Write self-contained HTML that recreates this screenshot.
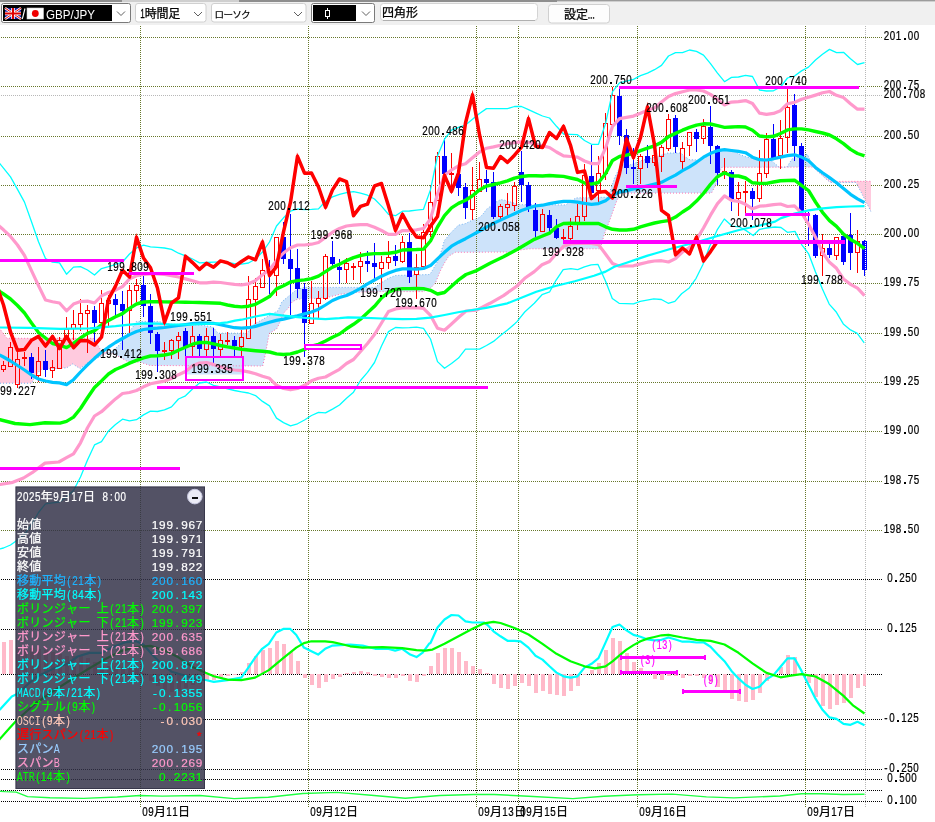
<!DOCTYPE html>
<html><head><meta charset="utf-8"><title>GBP/JPY</title>
<style>html,body{margin:0;padding:0;background:#fff;}body{width:935px;height:822px;overflow:hidden;font-family:"Liberation Sans",sans-serif;}svg{display:block;will-change:transform;}.cj{font-family:"Liberation Sans","Noto Sans CJK JP",sans-serif;font-size:12px;stroke-width:0.25px;}</style>
</head><body>
<svg width="935" height="822" viewBox="0 0 935 822">
<defs>
<clipPath id="plotclip"><rect x="0" y="25" width="871.5" height="535"/></clipPath>
<clipPath id="plotclip2"><rect x="0" y="25" width="866" height="782"/></clipPath>
</defs>
<rect x="0" y="0" width="935" height="822" fill="#fff"/>
<line x1="1" y1="37.5" x2="882" y2="37.5" stroke="#66772b" stroke-width="1" stroke-dasharray="1 1" shape-rendering="crispEdges"/>
<line x1="1" y1="86.5" x2="882" y2="86.5" stroke="#66772b" stroke-width="1" stroke-dasharray="1 1" shape-rendering="crispEdges"/>
<line x1="1" y1="136.5" x2="882" y2="136.5" stroke="#66772b" stroke-width="1" stroke-dasharray="1 1" shape-rendering="crispEdges"/>
<line x1="1" y1="185.5" x2="882" y2="185.5" stroke="#66772b" stroke-width="1" stroke-dasharray="1 1" shape-rendering="crispEdges"/>
<line x1="1" y1="234.5" x2="882" y2="234.5" stroke="#66772b" stroke-width="1" stroke-dasharray="1 1" shape-rendering="crispEdges"/>
<line x1="1" y1="283.5" x2="882" y2="283.5" stroke="#66772b" stroke-width="1" stroke-dasharray="1 1" shape-rendering="crispEdges"/>
<line x1="1" y1="333.5" x2="882" y2="333.5" stroke="#66772b" stroke-width="1" stroke-dasharray="1 1" shape-rendering="crispEdges"/>
<line x1="1" y1="382.5" x2="882" y2="382.5" stroke="#66772b" stroke-width="1" stroke-dasharray="1 1" shape-rendering="crispEdges"/>
<line x1="1" y1="431.5" x2="882" y2="431.5" stroke="#66772b" stroke-width="1" stroke-dasharray="1 1" shape-rendering="crispEdges"/>
<line x1="1" y1="481.5" x2="882" y2="481.5" stroke="#66772b" stroke-width="1" stroke-dasharray="1 1" shape-rendering="crispEdges"/>
<line x1="1" y1="530.5" x2="882" y2="530.5" stroke="#66772b" stroke-width="1" stroke-dasharray="1 1" shape-rendering="crispEdges"/>
<line x1="1" y1="95.5" x2="882" y2="95.5" stroke="#b8b8b8" stroke-width="1" stroke-dasharray="1 1" shape-rendering="crispEdges"/>
<line x1="1" y1="579.5" x2="882" y2="579.5" stroke="#000" stroke-width="1" stroke-dasharray="1 1" shape-rendering="crispEdges"/>
<line x1="1" y1="629.5" x2="882" y2="629.5" stroke="#000" stroke-width="1" stroke-dasharray="1 1" shape-rendering="crispEdges"/>
<line x1="1" y1="674.5" x2="882" y2="674.5" stroke="#000" stroke-width="1" stroke-dasharray="1 1" shape-rendering="crispEdges"/>
<line x1="1" y1="719.5" x2="882" y2="719.5" stroke="#000" stroke-width="1" stroke-dasharray="1 1" shape-rendering="crispEdges"/>
<line x1="1" y1="769.5" x2="882" y2="769.5" stroke="#000" stroke-width="1" stroke-dasharray="1 1" shape-rendering="crispEdges"/>
<line x1="1" y1="779.5" x2="882" y2="779.5" stroke="#000" stroke-width="1" stroke-dasharray="1 1" shape-rendering="crispEdges"/>
<line x1="1" y1="790.5" x2="882" y2="790.5" stroke="#000" stroke-width="1" stroke-dasharray="1 1" shape-rendering="crispEdges"/>
<line x1="1" y1="801.5" x2="882" y2="801.5" stroke="#000" stroke-width="1" stroke-dasharray="1 1" shape-rendering="crispEdges"/>
<g clip-path="url(#plotclip)">
<path d="M-3.0 383.2 L0.0 383.2 L1.0 383.2 L2.0 383.2 L3.0 383.2 L4.0 383.2 L5.0 383.2 L6.0 383.2 L7.0 383.2 L8.0 383.2 L9.0 383.2 L10.0 383.2 L11.0 383.2 L12.0 383.2 L13.0 383.2 L14.0 383.2 L15.0 383.2 L16.0 383.2 L17.0 383.2 L18.0 383.2 L19.0 383.2 L20.0 383.2 L21.0 383.2 L22.0 383.2 L23.0 383.2 L24.0 383.2 L25.0 383.2 L26.0 383.2 L27.0 383.2 L28.0 383.2 L29.0 383.2 L30.0 383.2 L31.0 383.2 L32.0 383.2 L33.0 380.8 L34.0 378.5 L34.2 378.0 L35.0 376.8 L36.0 375.3 L37.0 373.8 L37.6 372.9 L38.0 372.5 L39.0 371.5 L40.0 370.5 L41.0 369.5 L42.0 369.4 L43.0 369.4 L44.0 369.3 L45.0 369.2 L46.0 369.2 L47.0 369.1 L48.0 369.0 L49.0 369.0 L50.0 368.9 L51.0 368.8 L52.0 368.8 L53.0 368.7 L54.0 368.6 L55.0 368.6 L56.0 368.5 L57.0 368.4 L58.0 368.4 L59.0 368.3 L60.0 368.2 L61.0 368.2 L62.0 368.1 L63.0 368.0 L64.0 368.0 L65.0 367.9 L66.0 367.8 L66.7 367.8 L67.0 367.6 L68.0 367.0 L69.0 366.3 L70.0 365.7 L71.0 365.0 L72.0 364.4 L72.7 363.9 L73.0 364.1 L74.0 364.7 L75.0 365.4 L76.0 366.0 L77.0 366.7 L78.0 367.3 L79.0 368.0 L80.0 368.6 L81.0 367.8 L82.0 367.1 L83.0 366.3 L84.0 365.5 L85.0 364.8 L86.0 364.0 L87.0 363.2 L87.3 363.0 L88.0 362.7 L89.0 362.2 L90.0 361.7 L91.0 361.2 L92.0 360.7 L93.0 360.2 L93.6 359.9 L94.0 359.7 L95.0 359.2 L96.0 358.7 L97.0 358.2 L98.0 357.7 L99.0 357.2 L100.0 356.7 L101.0 356.2 L101.3 356.0 L102.0 355.7 L103.0 355.2 L104.0 354.7 L105.0 354.2 L106.0 353.7 L106.4 353.5 L107.0 353.3 L108.0 352.9 L108.0 352.6 L107.0 352.5 L106.4 352.4 L106.0 352.3 L105.0 352.0 L104.0 351.7 L103.0 351.5 L102.0 351.2 L101.3 351.0 L101.0 350.5 L100.0 348.9 L99.0 347.2 L98.0 345.6 L97.0 343.9 L96.0 342.3 L95.0 340.6 L94.0 339.0 L93.6 338.3 L93.0 338.3 L92.0 338.3 L91.0 338.3 L90.0 338.3 L89.0 338.3 L88.0 338.3 L87.3 338.3 L87.0 338.3 L86.0 338.3 L85.0 338.3 L84.0 338.3 L83.0 338.3 L82.0 338.3 L81.0 338.3 L80.0 338.3 L79.0 338.3 L78.0 338.3 L77.0 338.3 L76.0 338.3 L75.0 338.3 L74.0 338.3 L73.0 338.3 L72.7 338.3 L72.0 338.3 L71.0 338.3 L70.0 338.3 L69.0 338.3 L68.0 338.3 L67.0 338.3 L66.7 338.3 L66.0 338.3 L65.0 338.3 L64.0 338.3 L63.0 338.3 L62.0 338.3 L61.0 338.3 L60.0 338.3 L59.0 338.3 L58.0 338.3 L57.0 338.3 L56.0 338.3 L55.0 338.3 L54.0 338.3 L53.0 338.3 L52.0 338.3 L51.0 338.3 L50.0 338.3 L49.0 338.3 L48.0 338.3 L47.0 338.3 L46.0 338.3 L45.0 338.3 L44.0 338.3 L43.0 338.3 L42.0 338.3 L41.0 338.3 L40.0 338.3 L39.0 338.3 L38.0 338.3 L37.6 338.3 L37.0 338.3 L36.0 338.3 L35.0 338.3 L34.2 338.3 L34.0 338.3 L33.0 338.3 L32.0 338.3 L31.0 338.3 L30.0 338.3 L29.0 338.3 L28.0 338.3 L27.0 338.3 L26.0 338.3 L25.0 338.3 L24.0 338.3 L23.0 338.3 L22.0 338.3 L21.0 338.3 L20.0 338.3 L19.0 338.3 L18.0 338.3 L17.0 338.3 L16.0 338.3 L15.0 338.3 L14.0 338.3 L13.0 338.3 L12.0 338.3 L11.0 338.3 L10.0 338.3 L9.0 338.3 L8.0 338.3 L7.0 338.3 L6.0 337.0 L5.0 335.6 L4.0 334.3 L3.0 333.0 L2.0 331.7 L1.0 330.3 L0.0 329.0 L-3.0 326.0Z" fill="#ffcade"/>
<path d="M108.0 352.9 L109.0 352.6 L110.0 352.2 L111.0 351.9 L112.0 351.5 L113.0 350.6 L113.2 350.4 L114.0 349.7 L115.0 348.8 L116.0 347.9 L117.0 347.0 L118.0 346.1 L119.0 345.2 L119.2 345.0 L120.0 343.9 L121.0 342.5 L122.0 341.1 L123.0 339.7 L124.0 338.3 L125.0 336.9 L126.0 335.5 L127.0 334.3 L128.0 333.0 L129.0 331.8 L129.5 331.2 L130.0 330.6 L131.0 329.3 L132.0 328.1 L132.9 327.0 L133.0 326.8 L134.0 325.2 L135.0 323.5 L136.0 321.9 L136.3 321.4 L137.0 321.4 L138.0 321.4 L139.0 321.4 L139.7 321.4 L140.0 321.4 L141.0 321.4 L142.0 321.4 L143.0 321.4 L144.0 321.4 L145.0 321.4 L146.0 321.4 L147.0 321.4 L148.0 321.4 L149.0 321.4 L150.0 321.4 L151.0 321.4 L152.0 321.4 L153.0 321.4 L154.0 321.4 L155.0 321.4 L156.0 321.4 L157.0 321.4 L158.0 321.4 L159.0 321.4 L159.4 321.4 L160.0 321.7 L161.0 322.1 L162.0 322.6 L163.0 323.1 L164.0 323.5 L165.0 324.0 L166.0 324.0 L167.0 324.1 L168.0 324.1 L169.0 324.1 L170.0 324.1 L171.0 324.2 L172.0 324.2 L173.0 324.2 L174.0 324.3 L175.0 324.3 L176.0 324.3 L177.0 324.3 L178.0 324.4 L179.0 324.4 L180.0 324.4 L181.0 324.5 L182.0 324.5 L183.0 324.5 L184.0 324.5 L185.0 324.6 L186.0 324.6 L187.0 324.6 L188.0 324.7 L189.0 324.7 L190.0 324.7 L191.0 324.7 L192.0 324.8 L193.0 324.8 L194.0 324.8 L195.0 324.9 L196.0 324.9 L197.0 324.9 L198.0 324.9 L199.0 325.0 L200.0 325.0 L201.0 325.2 L202.0 325.3 L203.0 325.5 L204.0 325.6 L205.0 325.8 L206.0 325.9 L207.0 326.1 L208.0 326.2 L209.0 326.4 L210.0 326.5 L211.0 326.7 L212.0 326.8 L213.0 327.0 L214.0 328.2 L215.0 329.5 L216.0 330.7 L217.0 332.0 L218.0 333.2 L219.0 333.2 L220.0 333.2 L221.0 333.2 L222.0 333.2 L223.0 333.2 L224.0 333.2 L225.0 333.2 L226.0 333.2 L227.0 333.2 L228.0 333.2 L229.0 333.2 L230.0 333.2 L231.0 333.2 L232.0 333.2 L233.0 333.2 L234.0 333.2 L235.0 333.2 L236.0 333.2 L237.0 333.2 L238.0 333.2 L239.0 333.2 L240.0 333.2 L241.0 333.2 L242.0 333.2 L243.0 333.2 L244.0 333.2 L245.0 333.2 L246.0 333.2 L247.0 333.2 L248.0 331.9 L249.0 330.6 L250.0 329.3 L251.0 328.0 L252.0 326.7 L253.0 325.4 L253.7 324.5 L254.0 324.3 L255.0 323.8 L256.0 323.2 L257.0 322.6 L258.0 322.0 L259.0 321.5 L260.0 320.9 L261.0 320.3 L262.0 319.8 L262.7 319.4 L263.0 319.2 L264.0 318.6 L265.0 318.1 L265.2 317.9 L266.0 317.5 L266.5 317.2 L267.0 316.9 L268.0 316.4 L269.0 315.8 L269.1 315.7 L270.0 315.2 L271.0 314.7 L272.0 314.1 L273.0 313.5 L274.0 313.0 L275.0 312.4 L276.0 311.8 L276.8 311.4 L277.0 311.3 L278.0 310.7 L279.0 308.4 L279.3 307.7 L280.0 306.1 L281.0 303.9 L281.9 301.8 L282.0 301.7 L283.0 300.9 L284.0 300.0 L284.5 299.6 L285.0 299.2 L286.0 298.3 L287.0 297.5 L288.0 296.7 L288.3 296.4 L289.0 295.8 L289.6 295.3 L290.0 295.0 L291.0 294.2 L292.0 293.4 L292.2 293.2 L293.0 292.6 L294.0 291.8 L295.0 291.0 L296.0 290.2 L297.0 289.8 L297.3 289.7 L298.0 289.5 L299.0 289.1 L300.0 288.7 L301.0 288.4 L302.0 288.0 L303.0 287.7 L303.7 287.4 L304.0 287.4 L305.0 287.4 L306.0 287.4 L307.0 287.4 L308.0 287.4 L309.0 287.4 L310.0 287.4 L311.0 287.4 L312.0 287.4 L313.0 287.4 L314.0 287.4 L315.0 287.4 L316.0 287.4 L317.0 287.4 L318.0 287.4 L319.0 287.4 L320.0 287.4 L321.0 287.4 L322.0 287.4 L323.0 287.4 L324.0 287.4 L325.0 287.4 L325.6 287.4 L326.0 287.4 L327.0 287.4 L328.0 287.4 L329.0 287.4 L330.0 287.4 L331.0 287.4 L332.0 287.4 L333.0 287.4 L333.3 287.4 L334.0 287.4 L335.0 287.4 L336.0 287.4 L337.0 287.4 L338.0 287.4 L339.0 287.4 L339.7 287.4 L340.0 287.4 L341.0 287.4 L342.0 287.4 L343.0 287.4 L344.0 287.4 L345.0 287.4 L346.0 287.4 L347.0 287.4 L348.0 287.4 L349.0 287.4 L350.0 287.4 L351.0 287.4 L352.0 287.4 L353.0 287.4 L354.0 287.4 L355.0 287.4 L356.0 287.4 L357.0 287.4 L358.0 287.4 L359.0 287.4 L359.3 287.4 L360.0 287.4 L361.0 287.4 L362.0 287.4 L363.0 287.4 L364.0 287.4 L365.0 287.4 L366.0 287.4 L367.0 287.4 L368.0 287.4 L369.0 287.4 L370.0 287.4 L371.0 287.4 L372.0 287.4 L373.0 287.4 L374.0 287.4 L375.0 287.4 L376.0 286.7 L377.0 285.9 L378.0 285.2 L379.0 284.5 L380.0 283.7 L381.0 283.0 L382.0 282.4 L383.0 281.7 L384.0 281.1 L385.0 280.5 L386.0 279.9 L387.0 279.2 L388.0 278.6 L388.8 278.1 L389.0 278.0 L390.0 277.6 L391.0 277.2 L392.0 276.9 L393.0 276.5 L394.0 276.1 L395.0 275.7 L395.5 275.5 L396.0 275.5 L397.0 275.5 L398.0 275.4 L399.0 275.4 L400.0 275.4 L401.0 275.3 L402.0 275.3 L403.0 275.3 L404.0 275.3 L405.0 275.2 L406.0 275.2 L407.0 275.2 L408.0 275.1 L409.0 275.1 L410.0 275.1 L411.0 275.0 L412.0 275.0 L413.0 275.0 L414.0 275.0 L415.0 274.9 L416.0 274.9 L417.0 274.9 L418.0 274.8 L419.0 274.8 L420.0 274.8 L421.0 274.8 L422.0 274.7 L423.0 274.7 L423.4 274.7 L424.0 274.7 L425.0 274.6 L426.0 274.6 L427.0 274.6 L428.0 274.6 L429.0 274.5 L429.9 274.5 L430.0 274.3 L431.0 272.7 L431.1 272.5 L432.0 271.1 L432.4 270.4 L433.0 269.4 L434.0 267.6 L435.0 265.9 L435.6 264.9 L436.0 264.2 L437.0 262.4 L437.6 261.4 L438.0 260.3 L439.0 257.5 L440.0 254.7 L441.0 251.9 L441.7 250.0 L442.0 248.9 L443.0 245.3 L443.9 242.0 L444.0 241.7 L444.3 240.6 L445.0 239.8 L446.0 238.6 L447.0 237.4 L448.0 236.2 L448.7 235.4 L449.0 235.0 L450.0 233.8 L451.0 232.7 L451.3 232.3 L452.0 231.6 L453.0 230.6 L454.0 229.6 L455.0 228.6 L455.4 228.2 L456.0 227.6 L457.0 226.6 L458.0 225.6 L458.4 225.2 L459.0 225.1 L460.0 224.8 L461.0 224.6 L462.0 224.4 L463.0 224.1 L464.0 223.9 L465.0 223.7 L465.4 223.6 L466.0 223.3 L467.0 222.8 L468.0 222.3 L469.0 221.8 L470.0 221.3 L471.0 220.8 L472.0 220.3 L472.5 220.1 L473.0 219.9 L474.0 219.6 L475.0 219.2 L476.0 218.8 L477.0 218.5 L478.0 218.1 L479.0 217.7 L479.6 217.5 L480.0 217.1 L481.0 216.1 L482.0 215.1 L482.8 214.3 L483.0 214.0 L484.0 212.7 L485.0 211.3 L486.0 210.0 L486.6 209.2 L487.0 208.9 L488.0 208.2 L489.0 207.4 L490.0 206.7 L491.0 205.9 L491.8 205.3 L492.0 205.2 L493.0 204.4 L494.0 203.7 L495.0 202.9 L496.0 202.2 L496.9 201.5 L497.0 201.4 L498.0 200.9 L499.0 200.4 L500.0 199.9 L500.7 199.6 L501.0 199.6 L502.0 199.8 L503.0 200.0 L504.0 200.1 L504.6 200.2 L505.0 200.3 L506.0 200.6 L507.0 200.9 L508.0 201.3 L509.0 201.6 L510.0 201.9 L511.0 202.2 L512.0 202.5 L513.0 202.8 L513.2 202.9 L514.0 203.1 L514.9 203.4 L515.0 203.4 L516.0 203.6 L517.0 203.8 L518.0 204.0 L519.0 204.2 L520.0 204.4 L521.0 204.6 L521.3 204.7 L522.0 204.7 L523.0 204.7 L524.0 204.7 L524.7 204.7 L525.0 204.7 L526.0 204.7 L527.0 204.7 L528.0 204.7 L529.0 204.7 L530.0 204.7 L531.0 204.7 L532.0 204.7 L533.0 204.8 L534.0 204.8 L535.0 204.8 L536.0 204.8 L537.0 204.8 L538.0 204.8 L539.0 204.8 L540.0 204.8 L541.0 204.8 L542.0 204.8 L543.0 204.8 L544.0 204.8 L545.0 204.8 L546.0 204.8 L547.0 204.8 L548.0 204.8 L549.0 204.8 L550.0 204.8 L551.0 204.8 L552.0 204.8 L553.0 204.8 L554.0 204.8 L555.0 204.9 L556.0 204.9 L557.0 204.9 L558.0 204.9 L559.0 204.9 L560.0 204.9 L561.0 204.9 L562.0 204.9 L563.0 204.9 L564.0 204.9 L565.0 204.9 L565.7 204.9 L566.0 204.7 L567.0 204.0 L568.0 203.3 L569.0 202.6 L570.0 201.9 L571.0 201.3 L572.0 200.6 L573.0 199.9 L574.0 199.2 L575.0 198.5 L575.9 197.9 L576.0 197.9 L577.0 197.9 L578.0 197.9 L579.0 197.8 L580.0 197.8 L581.0 197.8 L582.0 197.8 L583.0 197.7 L584.0 197.7 L585.0 197.7 L586.0 197.7 L587.0 197.7 L588.0 197.6 L589.0 197.6 L590.0 197.6 L591.0 197.6 L592.0 197.5 L593.0 197.5 L594.0 197.5 L595.0 197.5 L596.0 197.5 L597.0 197.4 L598.0 197.4 L599.0 197.4 L600.0 197.4 L600.3 197.4 L601.0 197.4 L602.0 197.3 L603.0 197.3 L604.0 197.3 L604.2 197.3 L605.0 197.3 L606.0 197.2 L607.0 197.2 L608.0 197.2 L609.0 194.3 L609.3 193.4 L610.0 191.3 L611.0 188.4 L611.9 185.7 L612.0 185.4 L613.0 182.4 L614.0 179.5 L614.5 178.0 L615.0 177.0 L615.7 175.6 L616.0 175.0 L617.0 172.9 L618.0 170.9 L618.3 170.3 L619.0 169.4 L620.0 168.2 L621.0 167.0 L622.0 165.7 L623.0 164.5 L623.4 164.0 L624.0 164.1 L625.0 164.2 L626.0 164.4 L627.0 164.5 L628.0 164.7 L629.0 164.8 L630.0 165.0 L631.0 164.6 L632.0 164.2 L633.0 163.8 L634.0 163.4 L635.0 163.0 L636.0 162.6 L637.0 162.2 L638.0 161.8 L639.0 161.4 L640.0 161.0 L641.0 160.7 L642.0 160.5 L643.0 160.2 L644.0 160.0 L645.0 159.7 L646.0 159.5 L647.0 159.2 L648.0 159.0 L649.0 158.7 L650.0 158.5 L651.0 158.2 L652.0 158.0 L653.0 157.7 L654.0 157.5 L655.0 157.2 L656.0 156.9 L657.0 156.6 L658.0 156.3 L659.0 155.9 L660.0 155.6 L661.0 155.3 L661.4 155.2 L662.0 155.0 L663.0 154.6 L664.0 154.3 L665.0 154.0 L666.0 153.6 L667.0 153.3 L667.8 153.0 L668.0 153.0 L669.0 153.0 L670.0 153.0 L671.0 153.0 L672.0 153.0 L673.0 153.0 L674.0 153.0 L675.0 153.0 L676.0 153.0 L677.0 153.0 L678.0 153.0 L679.0 153.0 L680.0 153.0 L680.7 153.0 L681.0 153.2 L682.0 154.1 L683.0 154.9 L684.0 155.7 L685.0 156.5 L685.8 157.2 L686.0 157.3 L687.0 158.0 L688.0 158.6 L689.0 159.3 L689.7 159.7 L690.0 159.7 L691.0 159.7 L692.0 159.8 L693.0 159.8 L694.0 159.8 L695.0 159.9 L696.0 159.9 L697.0 159.9 L698.0 160.0 L698.6 160.0 L699.0 159.8 L700.0 159.4 L701.0 159.0 L702.0 158.6 L703.0 158.2 L704.0 157.8 L705.0 157.4 L706.0 157.0 L707.0 156.4 L708.0 155.9 L709.0 155.3 L710.0 154.8 L711.0 154.2 L711.5 153.9 L712.0 153.7 L713.0 153.1 L714.0 152.6 L715.0 152.0 L715.3 151.9 L716.0 151.8 L717.0 151.6 L718.0 151.4 L719.0 151.2 L719.2 151.1 L720.0 150.9 L721.0 150.7 L721.8 150.6 L722.0 150.5 L723.0 150.3 L724.0 150.1 L725.0 149.9 L726.0 149.7 L726.9 149.5 L727.0 149.5 L728.0 149.5 L729.0 149.5 L730.0 149.5 L731.0 149.5 L732.0 149.5 L733.0 150.2 L734.0 150.8 L735.0 151.5 L736.0 152.1 L737.0 152.8 L738.0 153.5 L739.0 154.1 L739.7 154.6 L740.0 154.7 L741.0 155.1 L742.0 155.4 L743.0 155.8 L744.0 156.2 L744.9 156.5 L745.0 156.5 L746.0 156.8 L747.0 157.1 L748.0 157.4 L749.0 157.6 L750.0 157.9 L751.0 158.2 L752.0 158.5 L753.0 158.8 L754.0 159.0 L755.0 159.3 L756.0 159.6 L756.4 159.7 L757.0 159.7 L758.0 159.8 L759.0 159.8 L760.0 159.8 L761.0 159.9 L762.0 159.9 L763.0 159.9 L764.0 160.0 L765.0 160.0 L766.0 160.1 L767.0 160.3 L768.0 160.4 L769.0 160.6 L770.0 160.7 L771.0 160.9 L772.0 161.0 L773.0 161.9 L774.0 162.7 L775.0 163.6 L776.0 164.5 L777.0 165.4 L778.0 166.2 L779.0 167.1 L780.0 167.1 L781.0 167.1 L782.0 167.1 L783.0 167.1 L784.0 167.1 L785.0 167.1 L786.0 167.1 L786.8 167.1 L787.0 166.8 L788.0 165.2 L789.0 163.7 L790.0 162.1 L791.0 160.6 L792.0 159.0 L793.0 158.6 L794.0 158.2 L795.0 157.9 L796.0 157.5 L797.0 157.1 L798.0 156.8 L799.0 156.4 L800.0 156.0 L801.0 155.8 L802.0 155.5 L803.0 155.3 L804.0 155.1 L805.0 154.9 L806.0 154.6 L807.0 154.4 L807.4 154.3 L808.0 155.6 L809.0 157.9 L810.0 160.1 L811.0 162.4 L812.0 164.6 L813.0 166.9 L813.0 167.1 L812.0 167.1 L811.0 167.1 L810.0 167.1 L809.0 167.1 L808.0 167.1 L807.4 167.1 L807.0 167.1 L806.0 167.1 L805.0 167.1 L804.0 167.1 L803.0 167.1 L802.0 167.1 L801.0 167.1 L800.0 167.1 L799.0 167.1 L798.0 167.1 L797.0 167.1 L796.0 167.1 L795.0 167.1 L794.0 167.1 L793.0 167.1 L792.0 167.1 L791.0 167.1 L790.0 167.2 L789.0 167.2 L788.0 167.2 L787.0 167.2 L786.8 167.2 L786.0 167.2 L785.0 167.2 L784.0 167.2 L783.0 167.2 L782.0 167.2 L781.0 167.2 L780.0 167.2 L779.0 167.2 L778.0 167.2 L777.0 167.2 L776.0 167.2 L775.0 167.2 L774.0 167.2 L773.0 167.2 L772.0 167.2 L771.0 167.2 L770.0 167.2 L769.0 167.2 L768.0 167.2 L767.0 167.2 L766.0 167.2 L765.0 167.2 L764.0 167.2 L763.0 167.2 L762.0 167.2 L761.0 167.2 L760.0 167.2 L759.0 167.2 L758.0 167.2 L757.0 167.2 L756.4 167.2 L756.0 167.2 L755.0 167.2 L754.0 167.2 L753.0 167.2 L752.0 167.2 L751.0 167.2 L750.0 167.2 L749.0 167.2 L748.0 167.2 L747.0 167.2 L746.0 167.2 L745.0 167.2 L744.9 167.2 L744.0 167.3 L743.0 167.3 L742.0 167.3 L741.0 167.3 L740.0 167.3 L739.7 167.3 L739.0 167.3 L738.0 167.3 L737.0 167.3 L736.0 167.3 L735.0 167.3 L734.0 167.3 L733.0 167.3 L732.0 167.3 L731.0 167.3 L730.0 167.3 L729.0 167.3 L728.0 167.3 L727.0 167.3 L726.9 167.3 L726.0 167.3 L725.0 167.3 L724.0 167.3 L723.0 167.3 L722.0 167.3 L721.8 167.3 L721.0 169.0 L720.0 171.1 L719.2 172.8 L719.0 173.5 L718.0 176.8 L717.0 180.1 L716.0 183.4 L715.3 185.7 L715.0 186.3 L714.0 188.2 L713.0 190.2 L712.0 192.1 L711.5 193.1 L711.0 193.1 L710.0 193.1 L709.0 193.1 L708.0 193.1 L707.0 193.1 L706.0 193.1 L705.0 193.1 L704.0 193.1 L703.0 193.1 L702.0 193.1 L701.0 193.1 L700.0 193.1 L699.0 193.1 L698.6 193.1 L698.0 193.1 L697.0 193.1 L696.0 193.1 L695.0 193.1 L694.0 193.1 L693.0 193.1 L692.0 193.1 L691.0 193.1 L690.0 193.1 L689.7 193.1 L689.0 193.1 L688.0 193.1 L687.0 193.1 L686.0 193.1 L685.8 193.1 L685.0 193.1 L684.0 193.1 L683.0 193.1 L682.0 193.1 L681.0 193.1 L680.7 193.1 L680.0 193.1 L679.0 193.1 L678.0 193.1 L677.0 193.1 L676.0 193.1 L675.0 193.1 L674.0 193.1 L673.0 193.1 L672.0 193.1 L671.0 193.1 L670.0 193.1 L669.0 193.1 L668.0 193.1 L667.8 193.1 L667.0 193.1 L666.0 193.1 L665.0 193.1 L664.0 193.1 L663.0 193.1 L662.0 193.1 L661.4 193.1 L661.0 193.1 L660.0 193.1 L659.0 193.1 L658.0 193.1 L657.0 193.1 L656.0 193.1 L655.0 193.1 L654.0 193.1 L653.0 193.1 L652.0 193.1 L651.0 193.1 L650.0 193.1 L649.0 193.1 L648.0 193.1 L647.0 193.1 L646.0 193.1 L645.0 193.1 L644.0 193.1 L643.0 193.1 L642.0 193.1 L641.0 193.1 L640.0 193.1 L639.0 193.1 L638.0 193.1 L637.0 193.1 L636.0 193.1 L635.0 193.1 L634.0 193.1 L633.0 193.1 L632.0 193.1 L631.0 193.1 L630.0 193.1 L629.0 193.1 L628.0 193.1 L627.0 193.1 L626.0 193.1 L625.0 193.1 L624.0 193.1 L623.4 193.1 L623.0 193.1 L622.0 193.1 L621.0 193.1 L620.0 193.1 L619.0 195.5 L618.3 197.2 L618.0 197.9 L617.0 200.4 L616.0 202.9 L615.7 203.6 L615.0 205.6 L614.5 207.0 L614.0 208.4 L613.0 211.2 L612.0 214.0 L611.9 214.3 L611.0 216.8 L610.0 219.6 L609.3 221.6 L609.0 222.4 L608.0 224.9 L607.0 227.4 L606.0 229.9 L605.0 232.5 L604.2 234.5 L604.0 235.2 L603.0 238.9 L602.0 242.6 L601.0 246.2 L600.3 248.8 L600.0 248.8 L599.0 248.8 L598.0 248.8 L597.0 248.8 L596.0 248.8 L595.0 248.8 L594.0 248.8 L593.0 248.8 L592.0 248.8 L591.0 248.8 L590.0 248.8 L589.0 248.8 L588.0 248.8 L587.0 248.8 L586.0 248.8 L585.0 248.8 L584.0 248.8 L583.0 248.8 L582.0 248.8 L581.0 248.8 L580.0 248.8 L579.0 248.8 L578.0 248.8 L577.0 248.8 L576.0 248.8 L575.9 248.8 L575.0 248.8 L574.0 248.8 L573.0 248.8 L572.0 248.8 L571.0 248.8 L570.0 248.8 L569.0 248.8 L568.0 248.8 L567.0 248.8 L566.0 248.8 L565.7 248.8 L565.0 248.8 L564.0 248.8 L563.0 248.8 L562.0 248.8 L561.0 248.8 L560.0 248.8 L559.0 248.8 L558.0 248.8 L557.0 248.8 L556.0 248.8 L555.0 248.8 L554.0 248.8 L553.0 248.8 L552.0 248.8 L551.0 248.8 L550.0 248.8 L549.0 248.8 L548.0 248.8 L547.0 248.8 L546.0 248.8 L545.0 248.8 L544.0 248.8 L543.0 248.8 L542.0 248.8 L541.0 248.8 L540.0 248.8 L539.0 248.8 L538.0 248.8 L537.0 248.8 L536.0 248.8 L535.0 248.8 L534.0 248.8 L533.0 248.8 L532.0 248.8 L531.0 248.8 L530.0 248.8 L529.0 248.9 L528.0 249.0 L527.0 249.1 L526.0 249.3 L525.0 249.4 L524.7 249.4 L524.0 249.5 L523.0 249.6 L522.0 249.8 L521.3 249.8 L521.0 249.9 L520.0 250.0 L519.0 250.1 L518.0 250.3 L517.0 250.4 L516.0 250.8 L515.0 251.2 L514.9 251.3 L514.0 251.7 L513.2 252.0 L513.0 252.0 L512.0 252.0 L511.0 252.0 L510.0 252.0 L509.0 252.0 L508.0 252.0 L507.0 252.0 L506.0 252.0 L505.0 252.0 L504.6 252.0 L504.0 252.0 L503.0 252.1 L502.0 252.1 L501.0 252.1 L500.7 252.1 L500.0 252.1 L499.0 252.1 L498.0 252.1 L497.0 252.1 L496.9 252.1 L496.0 252.1 L495.0 252.1 L494.0 252.1 L493.0 252.1 L492.0 252.1 L491.8 252.1 L491.0 252.1 L490.0 252.1 L489.0 252.1 L488.0 252.1 L487.0 252.1 L486.6 252.1 L486.0 252.1 L485.0 252.1 L484.0 252.2 L483.0 252.2 L482.8 252.2 L482.0 252.2 L481.0 252.2 L480.0 252.2 L479.6 252.2 L479.0 252.2 L478.0 252.2 L477.0 252.2 L476.0 252.2 L475.0 252.2 L474.0 252.2 L473.0 252.2 L472.5 252.2 L472.0 252.2 L471.0 252.2 L470.0 252.2 L469.0 252.2 L468.0 252.2 L467.0 252.2 L466.0 252.2 L465.4 252.2 L465.0 252.3 L464.0 252.3 L463.0 252.3 L462.0 252.3 L461.0 252.3 L460.0 252.3 L459.0 252.3 L458.4 252.3 L458.0 252.3 L457.0 252.3 L456.0 252.3 L455.4 252.3 L455.0 252.5 L454.0 253.1 L453.0 253.7 L452.0 254.3 L451.3 254.7 L451.0 254.9 L450.0 255.4 L449.0 256.0 L448.7 256.2 L448.0 257.3 L447.0 258.9 L446.0 260.5 L445.0 262.1 L444.3 263.3 L444.0 263.7 L443.9 263.9 L443.0 265.7 L442.0 267.7 L441.7 268.2 L441.0 269.6 L440.0 271.6 L439.0 274.1 L438.0 276.6 L437.6 277.6 L437.0 279.1 L436.0 281.6 L435.6 282.6 L435.0 283.3 L434.0 284.4 L433.0 285.5 L432.4 286.2 L432.0 286.7 L431.1 287.7 L431.0 287.8 L430.0 288.3 L429.9 288.3 L429.0 288.8 L428.0 289.3 L427.0 289.8 L426.0 290.3 L425.0 290.8 L424.0 291.3 L423.4 291.6 L423.0 291.6 L422.0 291.6 L421.0 291.6 L420.0 291.6 L419.0 291.6 L418.0 291.6 L417.0 291.6 L416.0 291.6 L415.0 291.6 L414.0 291.6 L413.0 291.6 L412.0 291.6 L411.0 291.6 L410.0 291.6 L409.0 291.6 L408.0 291.6 L407.0 291.6 L406.0 291.6 L405.0 291.6 L404.0 291.6 L403.0 291.6 L402.0 291.6 L401.0 291.6 L400.0 291.6 L399.0 291.6 L398.0 291.6 L397.0 291.6 L396.0 291.6 L395.5 291.6 L395.0 291.6 L394.0 291.6 L393.0 291.6 L392.0 291.6 L391.0 291.6 L390.0 291.6 L389.0 291.6 L388.8 291.6 L388.0 291.6 L387.0 291.6 L386.0 291.6 L385.0 291.6 L384.0 291.6 L383.0 291.6 L382.0 291.6 L381.0 291.6 L380.0 291.6 L379.0 291.6 L378.0 291.6 L377.0 291.6 L376.0 291.6 L375.0 291.6 L374.0 291.6 L373.0 291.6 L372.0 291.6 L371.0 291.6 L370.0 291.6 L369.0 291.7 L368.0 291.7 L367.0 291.8 L366.0 291.8 L365.0 291.9 L364.0 291.9 L363.0 292.0 L362.0 292.0 L361.0 292.1 L360.0 292.2 L359.3 292.2 L359.0 292.2 L358.0 292.3 L357.0 292.4 L356.0 292.6 L355.0 292.7 L354.0 292.8 L353.0 292.9 L352.0 293.0 L351.0 293.1 L350.0 293.2 L349.0 293.3 L348.0 293.4 L347.0 293.5 L346.0 293.6 L345.0 293.7 L344.0 293.8 L343.0 293.9 L342.0 294.1 L341.0 294.2 L340.0 294.3 L339.7 294.3 L339.0 294.5 L338.0 294.8 L337.0 295.0 L336.0 295.3 L335.0 295.5 L334.0 295.8 L333.3 296.0 L333.0 296.1 L332.0 296.3 L331.0 296.6 L330.0 296.8 L329.0 297.1 L328.0 297.3 L327.0 297.6 L326.0 297.8 L325.6 297.9 L325.0 297.9 L324.0 298.0 L323.0 298.0 L322.0 298.1 L321.0 298.1 L320.0 298.2 L319.0 298.2 L318.0 298.2 L317.0 298.3 L316.0 298.3 L315.0 298.4 L314.0 298.4 L313.0 298.5 L312.0 298.5 L311.0 298.6 L310.0 298.6 L309.0 298.7 L308.0 298.7 L307.0 298.8 L306.0 298.8 L305.0 298.8 L304.0 298.9 L303.7 298.9 L303.0 298.9 L302.0 299.0 L301.0 299.0 L300.0 299.1 L299.0 299.1 L298.0 299.2 L297.3 299.2 L297.0 299.4 L296.0 299.9 L295.0 300.4 L294.0 300.9 L293.0 301.4 L292.2 301.8 L292.0 302.1 L291.0 303.8 L290.0 305.4 L289.6 306.1 L289.0 307.1 L288.3 308.2 L288.0 308.5 L287.0 309.5 L286.0 310.5 L285.0 311.5 L284.5 312.0 L284.0 313.1 L283.0 315.3 L282.0 317.6 L281.9 317.8 L281.0 319.8 L280.0 322.0 L279.3 323.6 L279.0 324.2 L278.0 326.3 L277.0 328.3 L276.8 328.7 L276.0 329.2 L275.0 329.8 L274.0 330.5 L273.0 331.1 L272.0 331.8 L271.0 332.4 L270.0 333.0 L269.1 333.6 L269.0 334.2 L268.0 339.7 L267.0 345.3 L266.5 348.1 L266.0 350.8 L265.2 355.2 L265.0 356.1 L264.0 360.4 L263.0 364.7 L262.7 366.0 L262.0 366.0 L261.0 366.0 L260.0 366.0 L259.0 366.0 L258.0 366.0 L257.0 366.0 L256.0 366.0 L255.0 366.0 L254.0 366.0 L253.7 366.0 L253.0 366.0 L252.0 366.0 L251.0 365.9 L250.0 365.9 L249.0 365.9 L248.0 365.9 L247.0 365.9 L246.0 365.9 L245.0 365.9 L244.0 365.9 L243.0 365.9 L242.0 365.9 L241.0 365.9 L240.0 365.9 L239.0 365.9 L238.0 365.9 L237.0 365.9 L236.0 365.9 L235.0 365.9 L234.0 365.9 L233.0 365.9 L232.0 365.9 L231.0 365.9 L230.0 365.9 L229.0 365.9 L228.0 365.8 L227.0 365.8 L226.0 365.8 L225.0 365.8 L224.0 365.8 L223.0 365.8 L222.0 365.8 L221.0 365.8 L220.0 365.8 L219.0 365.8 L218.0 365.8 L217.0 365.8 L216.0 365.8 L215.0 365.8 L214.0 365.8 L213.0 365.8 L212.0 365.8 L211.0 365.8 L210.0 365.8 L209.0 365.8 L208.0 365.8 L207.0 365.8 L206.0 365.7 L205.0 365.7 L204.0 365.7 L203.0 365.7 L202.0 365.7 L201.0 365.7 L200.0 365.7 L199.0 365.7 L198.0 365.7 L197.0 365.7 L196.0 365.7 L195.0 365.7 L194.0 365.7 L193.0 365.7 L192.0 365.7 L191.0 365.7 L190.0 365.7 L189.0 365.7 L188.0 365.7 L187.0 365.7 L186.0 365.7 L185.0 365.7 L184.0 365.7 L183.0 365.6 L182.0 365.6 L181.0 365.6 L180.0 365.6 L179.0 365.6 L178.0 365.6 L177.0 365.6 L176.0 365.6 L175.0 365.6 L174.0 365.6 L173.0 365.6 L172.0 365.6 L171.0 365.6 L170.0 365.6 L169.0 365.6 L168.0 365.6 L167.0 365.6 L166.0 365.6 L165.0 365.6 L164.0 365.6 L163.0 365.6 L162.0 365.6 L161.0 365.5 L160.0 365.5 L159.4 365.5 L159.0 365.5 L158.0 365.5 L157.0 365.5 L156.0 365.5 L155.0 365.5 L154.0 365.5 L153.0 365.5 L152.0 365.5 L151.0 365.5 L150.0 365.5 L149.0 365.2 L148.0 364.8 L147.0 364.5 L146.0 364.1 L145.0 363.8 L144.0 363.5 L143.0 363.1 L142.0 362.8 L141.0 362.4 L140.0 362.1 L139.7 362.0 L139.0 362.0 L138.0 362.1 L137.0 362.1 L136.3 362.2 L136.0 362.2 L135.0 362.2 L134.0 362.3 L133.0 362.3 L132.9 362.3 L132.0 362.4 L131.0 362.4 L130.0 362.5 L129.5 362.5 L129.0 362.2 L128.0 361.7 L127.0 361.1 L126.0 360.6 L125.0 360.0 L124.0 359.5 L123.0 358.9 L122.0 358.4 L121.0 357.8 L120.0 357.2 L119.2 356.8 L119.0 356.7 L118.0 356.1 L117.0 355.6 L116.0 355.0 L115.0 354.5 L114.0 353.9 L113.2 353.5 L113.0 353.5 L112.0 353.3 L111.0 353.1 L110.0 353.0 L109.0 352.8 L108.0 352.6Z" fill="#cde3fa"/>
<path d="M813.0 166.9 L813.1 167.1 L814.0 167.9 L815.0 168.8 L816.0 169.8 L817.0 170.7 L818.0 171.6 L819.0 172.5 L820.0 173.4 L821.0 174.4 L822.0 175.3 L823.0 176.2 L824.0 177.1 L825.0 178.0 L826.0 178.9 L826.6 179.5 L827.0 179.8 L828.0 180.6 L829.0 181.3 L830.0 182.1 L830.5 182.5 L831.0 182.5 L832.0 182.5 L833.0 182.5 L834.0 182.5 L835.0 182.5 L836.0 182.5 L837.0 182.5 L838.0 182.5 L839.0 182.5 L840.0 182.5 L841.0 182.5 L842.0 182.5 L843.0 182.5 L844.0 182.5 L845.0 182.5 L846.0 182.5 L847.0 182.5 L848.0 182.5 L849.0 182.5 L850.0 182.5 L851.0 182.5 L852.0 182.5 L853.0 182.5 L854.0 182.5 L855.0 182.5 L856.0 182.5 L856.1 182.5 L857.0 184.3 L858.0 186.2 L859.0 188.2 L860.0 190.1 L861.0 192.1 L862.0 194.0 L863.0 196.0 L864.0 197.9 L865.0 199.9 L866.0 201.8 L867.0 203.8 L868.0 205.7 L869.0 207.7 L870.0 209.6 L871.0 211.6 L871.0 181.3 L870.0 181.3 L869.0 181.3 L868.0 181.3 L867.0 181.3 L866.0 181.3 L865.0 181.3 L864.0 181.3 L863.0 181.3 L862.0 181.3 L861.0 181.3 L860.0 181.3 L859.0 181.3 L858.0 181.3 L857.0 181.3 L856.1 181.3 L856.0 181.3 L855.0 181.3 L854.0 181.3 L853.0 181.3 L852.0 181.3 L851.0 181.3 L850.0 181.4 L849.0 181.4 L848.0 181.4 L847.0 181.4 L846.0 181.4 L845.0 181.4 L844.0 181.4 L843.0 181.4 L842.0 181.4 L841.0 181.4 L840.0 181.4 L839.0 181.4 L838.0 181.4 L837.0 181.4 L836.0 181.4 L835.0 181.4 L834.0 181.4 L833.0 181.4 L832.0 181.4 L831.0 181.4 L830.5 181.4 L830.0 181.0 L829.0 180.2 L828.0 179.4 L827.0 178.6 L826.6 178.3 L826.0 177.8 L825.0 177.0 L824.0 176.1 L823.0 175.3 L822.0 174.5 L821.0 173.7 L820.0 172.8 L819.0 172.0 L818.0 171.2 L817.0 170.3 L816.0 169.5 L815.0 168.7 L814.0 167.8 L813.1 167.1 L813.0 167.1Z" fill="#ffcade"/>
<rect x="187" y="358" width="55" height="16.5" fill="#cde3fa"/>
<path d="M-3.0 383.2 L32.0 383.2 L34.2 378.0 L37.6 372.9 L41.0 369.5 L66.7 367.8 L72.7 363.9 L80.0 368.6 L87.3 363.0 L106.4 353.5 L112.0 351.5 L119.2 345.0 L126.0 335.5 L132.9 327.0 L136.3 321.4 L159.4 321.4 L165.0 324.0 L200.0 325.0 L213.0 327.0 L218.0 333.2 L247.0 333.2 L253.7 324.5 L266.5 317.2 L278.0 310.7 L281.9 301.8 L289.6 295.3 L296.0 290.2 L303.7 287.4 L375.0 287.4 L381.0 283.0 L388.8 278.1 L395.5 275.5 L429.9 274.5 L432.4 270.4 L437.6 261.4 L441.7 250.0 L444.3 240.6 L451.3 232.3 L458.4 225.2 L465.4 223.6 L472.5 220.1 L479.6 217.5 L482.8 214.3 L486.6 209.2 L491.8 205.3 L496.9 201.5 L500.7 199.6 L504.6 200.2 L514.9 203.4 L521.3 204.7 L565.7 204.9 L575.9 197.9 L608.0 197.2 L611.9 185.7 L614.5 178.0 L618.3 170.3 L623.4 164.0 L630.0 165.0 L640.0 161.0 L655.0 157.2 L661.4 155.2 L667.8 153.0 L680.7 153.0 L685.8 157.2 L689.7 159.7 L698.6 160.0 L706.0 157.0 L715.0 152.0 L726.9 149.5 L732.0 149.5 L739.7 154.6 L744.9 156.5 L756.4 159.7 L765.0 160.0 L772.0 161.0 L779.0 167.1 L786.8 167.1 L792.0 159.0 L800.0 156.0 L807.4 154.3 L813.1 167.1 L826.6 179.5 L830.5 182.5 L856.1 182.5 L871.0 211.6" fill="none" stroke="#6fb0f0" stroke-width="1" stroke-linejoin="round" stroke-linecap="butt" stroke-dasharray="1 2"/>
<path d="M-3.0 326.0 L0.0 329.0 L7.0 338.3 L93.6 338.3 L101.3 351.0 L106.0 352.3 L113.2 353.5 L121.0 357.8 L129.5 362.5 L139.7 362.0 L150.0 365.5 L262.7 366.0 L265.2 355.2 L266.5 348.1 L269.1 333.6 L276.8 328.7 L279.3 323.6 L284.5 312.0 L288.3 308.2 L292.2 301.8 L297.3 299.2 L325.6 297.9 L333.3 296.0 L339.7 294.3 L348.0 293.4 L359.3 292.2 L370.0 291.6 L423.4 291.6 L431.1 287.7 L435.6 282.6 L440.0 271.6 L443.9 263.9 L448.7 256.2 L455.4 252.3 L513.2 252.0 L517.0 250.4 L524.7 249.4 L530.0 248.8 L600.3 248.8 L604.2 234.5 L609.3 221.6 L615.7 203.6 L618.3 197.2 L620.0 193.1 L711.5 193.1 L715.3 185.7 L719.2 172.8 L721.8 167.3 L813.1 167.1 L826.6 178.3 L830.5 181.4 L871.0 181.3" fill="none" stroke="#ff70b0" stroke-width="1" stroke-linejoin="round" stroke-linecap="butt" stroke-dasharray="1 2"/>
</g>
<line x1="140.5" y1="26" x2="140.5" y2="807" stroke="#66772b" stroke-width="1" stroke-dasharray="1 1" shape-rendering="crispEdges"/>
<line x1="308.5" y1="26" x2="308.5" y2="807" stroke="#66772b" stroke-width="1" stroke-dasharray="1 1" shape-rendering="crispEdges"/>
<line x1="476.5" y1="26" x2="476.5" y2="807" stroke="#66772b" stroke-width="1" stroke-dasharray="1 1" shape-rendering="crispEdges"/>
<line x1="518.5" y1="26" x2="518.5" y2="807" stroke="#66772b" stroke-width="1" stroke-dasharray="1 1" shape-rendering="crispEdges"/>
<line x1="637.5" y1="26" x2="637.5" y2="807" stroke="#66772b" stroke-width="1" stroke-dasharray="1 1" shape-rendering="crispEdges"/>
<line x1="805.5" y1="26" x2="805.5" y2="807" stroke="#66772b" stroke-width="1" stroke-dasharray="1 1" shape-rendering="crispEdges"/>
<line x1="865.5" y1="26" x2="865.5" y2="807" stroke="#b8b8b8" stroke-width="1" stroke-dasharray="1 1" shape-rendering="crispEdges"/>
<g shape-rendering="crispEdges">
<rect x="3" y="361" width="1" height="4" fill="#f00"/>
<rect x="3" y="369" width="1" height="3" fill="#f00"/>
<rect x="1.5" y="365.5" width="4" height="4" fill="none" stroke="#f00" stroke-width="1"/>
<rect x="10" y="342" width="1" height="5" fill="#f00"/>
<rect x="8.5" y="347.5" width="4" height="19" fill="none" stroke="#f00" stroke-width="1"/>
<rect x="17" y="351" width="1" height="8" fill="#f00"/>
<rect x="17" y="384" width="1" height="4" fill="#f00"/>
<rect x="15.5" y="359.5" width="4" height="25" fill="none" stroke="#f00" stroke-width="1"/>
<rect x="24" y="352" width="1" height="14" fill="#f00"/>
<rect x="22" y="357" width="5" height="2" fill="#f00"/>
<rect x="31" y="353" width="1" height="26" fill="#00f"/>
<rect x="29" y="357" width="5" height="16" fill="#00f"/>
<rect x="38" y="347" width="1" height="14" fill="#f00"/>
<rect x="38" y="375" width="1" height="7" fill="#f00"/>
<rect x="36.5" y="361.5" width="4" height="14" fill="none" stroke="#f00" stroke-width="1"/>
<rect x="45" y="350" width="1" height="27" fill="#00f"/>
<rect x="43" y="361" width="5" height="9" fill="#00f"/>
<rect x="52" y="360" width="1" height="7" fill="#f00"/>
<rect x="52" y="370" width="1" height="8" fill="#f00"/>
<rect x="50.5" y="367.5" width="4" height="3" fill="none" stroke="#f00" stroke-width="1"/>
<rect x="59" y="337" width="1" height="3" fill="#f00"/>
<rect x="57.5" y="340.5" width="4" height="28" fill="none" stroke="#f00" stroke-width="1"/>
<rect x="66" y="317" width="1" height="12" fill="#f00"/>
<rect x="64.5" y="329.5" width="4" height="7" fill="none" stroke="#f00" stroke-width="1"/>
<rect x="73" y="310" width="1" height="14" fill="#f00"/>
<rect x="73" y="328" width="1" height="12" fill="#f00"/>
<rect x="71.5" y="324.5" width="4" height="4" fill="none" stroke="#f00" stroke-width="1"/>
<rect x="80" y="299" width="1" height="14" fill="#f00"/>
<rect x="80" y="324" width="1" height="7" fill="#f00"/>
<rect x="78.5" y="313.5" width="4" height="11" fill="none" stroke="#f00" stroke-width="1"/>
<rect x="87" y="305" width="1" height="5" fill="#f00"/>
<rect x="87" y="313" width="1" height="40" fill="#f00"/>
<rect x="85.5" y="310.5" width="4" height="3" fill="none" stroke="#f00" stroke-width="1"/>
<rect x="94" y="306" width="1" height="36" fill="#00f"/>
<rect x="92" y="310" width="5" height="13" fill="#00f"/>
<rect x="101" y="290" width="1" height="13" fill="#f00"/>
<rect x="99.5" y="303.5" width="4" height="19" fill="none" stroke="#f00" stroke-width="1"/>
<rect x="108" y="295" width="1" height="5" fill="#f00"/>
<rect x="108" y="303" width="1" height="23" fill="#f00"/>
<rect x="106.5" y="300.5" width="4" height="3" fill="none" stroke="#f00" stroke-width="1"/>
<rect x="115" y="294" width="1" height="22" fill="#00f"/>
<rect x="113" y="299" width="5" height="6" fill="#00f"/>
<rect x="122" y="291" width="1" height="59" fill="#00f"/>
<rect x="120" y="304" width="5" height="7" fill="#00f"/>
<rect x="129" y="285" width="1" height="5" fill="#f00"/>
<rect x="129" y="310" width="1" height="25" fill="#f00"/>
<rect x="127.5" y="290.5" width="4" height="20" fill="none" stroke="#f00" stroke-width="1"/>
<rect x="136" y="279" width="1" height="6" fill="#f00"/>
<rect x="136" y="290" width="1" height="12" fill="#f00"/>
<rect x="134.5" y="285.5" width="4" height="5" fill="none" stroke="#f00" stroke-width="1"/>
<rect x="143" y="276" width="1" height="41" fill="#00f"/>
<rect x="141" y="285" width="5" height="21" fill="#00f"/>
<rect x="150" y="294" width="1" height="50" fill="#00f"/>
<rect x="148" y="306" width="5" height="27" fill="#00f"/>
<rect x="157" y="332" width="1" height="40" fill="#00f"/>
<rect x="155" y="334" width="5" height="17" fill="#00f"/>
<rect x="164" y="342" width="1" height="18" fill="#f00"/>
<rect x="162" y="350" width="5" height="2" fill="#f00"/>
<rect x="171" y="339" width="1" height="1" fill="#f00"/>
<rect x="171" y="350" width="1" height="9" fill="#f00"/>
<rect x="169.5" y="340.5" width="4" height="10" fill="none" stroke="#f00" stroke-width="1"/>
<rect x="178" y="332" width="1" height="4" fill="#f00"/>
<rect x="178" y="340" width="1" height="19" fill="#f00"/>
<rect x="176.5" y="336.5" width="4" height="4" fill="none" stroke="#f00" stroke-width="1"/>
<rect x="185" y="328" width="1" height="28" fill="#00f"/>
<rect x="183" y="331" width="5" height="16" fill="#00f"/>
<rect x="192" y="326" width="1" height="10" fill="#f00"/>
<rect x="192" y="346" width="1" height="10" fill="#f00"/>
<rect x="190.5" y="336.5" width="4" height="10" fill="none" stroke="#f00" stroke-width="1"/>
<rect x="199" y="334" width="1" height="22" fill="#00f"/>
<rect x="197" y="336" width="5" height="13" fill="#00f"/>
<rect x="206" y="328" width="1" height="8" fill="#f00"/>
<rect x="206" y="349" width="1" height="7" fill="#f00"/>
<rect x="204.5" y="336.5" width="4" height="13" fill="none" stroke="#f00" stroke-width="1"/>
<rect x="213" y="328" width="1" height="35" fill="#00f"/>
<rect x="211" y="336" width="5" height="13" fill="#00f"/>
<rect x="220" y="334" width="1" height="6" fill="#f00"/>
<rect x="220" y="349" width="1" height="7" fill="#f00"/>
<rect x="218.5" y="340.5" width="4" height="9" fill="none" stroke="#f00" stroke-width="1"/>
<rect x="227" y="332" width="1" height="13" fill="#f00"/>
<rect x="225" y="340" width="5" height="2" fill="#f00"/>
<rect x="234" y="336" width="1" height="20" fill="#00f"/>
<rect x="232" y="340" width="5" height="6" fill="#00f"/>
<rect x="241" y="330" width="1" height="7" fill="#f00"/>
<rect x="241" y="346" width="1" height="10" fill="#f00"/>
<rect x="239.5" y="337.5" width="4" height="9" fill="none" stroke="#f00" stroke-width="1"/>
<rect x="248" y="276" width="1" height="23" fill="#f00"/>
<rect x="246.5" y="299.5" width="4" height="39" fill="none" stroke="#f00" stroke-width="1"/>
<rect x="255" y="278" width="1" height="8" fill="#f00"/>
<rect x="255" y="299" width="1" height="25" fill="#f00"/>
<rect x="253.5" y="286.5" width="4" height="13" fill="none" stroke="#f00" stroke-width="1"/>
<rect x="262" y="259" width="1" height="11" fill="#f00"/>
<rect x="260.5" y="270.5" width="4" height="17" fill="none" stroke="#f00" stroke-width="1"/>
<rect x="269" y="260" width="1" height="34" fill="#00f"/>
<rect x="276" y="275" width="1" height="21" fill="#f00"/>
<rect x="274.5" y="237.5" width="4" height="38" fill="none" stroke="#f00" stroke-width="1"/>
<rect x="283" y="222" width="1" height="42" fill="#00f"/>
<rect x="281" y="237" width="5" height="22" fill="#00f"/>
<rect x="290" y="214" width="1" height="101" fill="#00f"/>
<rect x="288" y="259" width="5" height="10" fill="#00f"/>
<rect x="297" y="249" width="1" height="49" fill="#00f"/>
<rect x="295" y="268" width="5" height="21" fill="#00f"/>
<rect x="304" y="283" width="1" height="74" fill="#00f"/>
<rect x="302" y="289" width="5" height="34" fill="#00f"/>
<rect x="311" y="281" width="1" height="22" fill="#f00"/>
<rect x="309.5" y="303.5" width="4" height="20" fill="none" stroke="#f00" stroke-width="1"/>
<rect x="318" y="291" width="1" height="7" fill="#f00"/>
<rect x="318" y="303" width="1" height="15" fill="#f00"/>
<rect x="316.5" y="298.5" width="4" height="5" fill="none" stroke="#f00" stroke-width="1"/>
<rect x="325" y="254" width="1" height="2" fill="#f00"/>
<rect x="325" y="298" width="1" height="2" fill="#f00"/>
<rect x="323.5" y="256.5" width="4" height="42" fill="none" stroke="#f00" stroke-width="1"/>
<rect x="332" y="241" width="1" height="25" fill="#00f"/>
<rect x="330" y="257" width="5" height="7" fill="#00f"/>
<rect x="339" y="259" width="1" height="25" fill="#00f"/>
<rect x="337" y="267" width="5" height="3" fill="#00f"/>
<rect x="346" y="258" width="1" height="5" fill="#f00"/>
<rect x="346" y="269" width="1" height="14" fill="#f00"/>
<rect x="344.5" y="263.5" width="4" height="6" fill="none" stroke="#f00" stroke-width="1"/>
<rect x="353" y="263" width="1" height="17" fill="#f00"/>
<rect x="351" y="266" width="5" height="2" fill="#f00"/>
<rect x="360" y="252" width="1" height="9" fill="#f00"/>
<rect x="360" y="266" width="1" height="17" fill="#f00"/>
<rect x="358.5" y="261.5" width="4" height="5" fill="none" stroke="#f00" stroke-width="1"/>
<rect x="367" y="251" width="1" height="21" fill="#00f"/>
<rect x="365" y="261" width="5" height="3" fill="#00f"/>
<rect x="374" y="243" width="1" height="36" fill="#00f"/>
<rect x="372" y="263" width="5" height="4" fill="#00f"/>
<rect x="381" y="256" width="1" height="6" fill="#f00"/>
<rect x="381" y="268" width="1" height="22" fill="#f00"/>
<rect x="379.5" y="262.5" width="4" height="6" fill="none" stroke="#f00" stroke-width="1"/>
<rect x="388" y="241" width="1" height="16" fill="#f00"/>
<rect x="388" y="262" width="1" height="7" fill="#f00"/>
<rect x="386.5" y="257.5" width="4" height="5" fill="none" stroke="#f00" stroke-width="1"/>
<rect x="395" y="245" width="1" height="21" fill="#00f"/>
<rect x="393" y="256" width="5" height="5" fill="#00f"/>
<rect x="402" y="236" width="1" height="6" fill="#f00"/>
<rect x="402" y="261" width="1" height="2" fill="#f00"/>
<rect x="400.5" y="242.5" width="4" height="19" fill="none" stroke="#f00" stroke-width="1"/>
<rect x="409" y="233" width="1" height="50" fill="#00f"/>
<rect x="407" y="242" width="5" height="35" fill="#00f"/>
<rect x="416" y="254" width="1" height="13" fill="#f00"/>
<rect x="416" y="274" width="1" height="25" fill="#f00"/>
<rect x="414.5" y="267.5" width="4" height="7" fill="none" stroke="#f00" stroke-width="1"/>
<rect x="423" y="224" width="1" height="8" fill="#f00"/>
<rect x="421.5" y="232.5" width="4" height="34" fill="none" stroke="#f00" stroke-width="1"/>
<rect x="430" y="185" width="1" height="17" fill="#f00"/>
<rect x="430" y="231" width="1" height="6" fill="#f00"/>
<rect x="428.5" y="202.5" width="4" height="29" fill="none" stroke="#f00" stroke-width="1"/>
<rect x="437" y="152" width="1" height="4" fill="#f00"/>
<rect x="435.5" y="156.5" width="4" height="44" fill="none" stroke="#f00" stroke-width="1"/>
<rect x="444" y="138" width="1" height="38" fill="#00f"/>
<rect x="442" y="156" width="5" height="18" fill="#00f"/>
<rect x="451" y="153" width="1" height="37" fill="#f00"/>
<rect x="449" y="173" width="5" height="2" fill="#f00"/>
<rect x="458" y="170" width="1" height="26" fill="#00f"/>
<rect x="456" y="174" width="5" height="14" fill="#00f"/>
<rect x="465" y="183" width="1" height="36" fill="#00f"/>
<rect x="463" y="187" width="5" height="21" fill="#00f"/>
<rect x="472" y="167" width="1" height="23" fill="#f00"/>
<rect x="472" y="209" width="1" height="11" fill="#f00"/>
<rect x="470.5" y="190.5" width="4" height="19" fill="none" stroke="#f00" stroke-width="1"/>
<rect x="479" y="162" width="1" height="17" fill="#f00"/>
<rect x="477.5" y="179.5" width="4" height="12" fill="none" stroke="#f00" stroke-width="1"/>
<rect x="486" y="170" width="1" height="22" fill="#00f"/>
<rect x="484" y="179" width="5" height="4" fill="#00f"/>
<rect x="493" y="172" width="1" height="47" fill="#00f"/>
<rect x="491" y="182" width="5" height="35" fill="#00f"/>
<rect x="500" y="204" width="1" height="2" fill="#f00"/>
<rect x="500" y="216" width="1" height="4" fill="#f00"/>
<rect x="498.5" y="206.5" width="4" height="10" fill="none" stroke="#f00" stroke-width="1"/>
<rect x="507" y="193" width="1" height="11" fill="#f00"/>
<rect x="507" y="207" width="1" height="10" fill="#f00"/>
<rect x="505.5" y="204.5" width="4" height="3" fill="none" stroke="#f00" stroke-width="1"/>
<rect x="514" y="182" width="1" height="4" fill="#f00"/>
<rect x="514" y="205" width="1" height="6" fill="#f00"/>
<rect x="512.5" y="186.5" width="4" height="19" fill="none" stroke="#f00" stroke-width="1"/>
<rect x="521" y="151" width="1" height="51" fill="#00f"/>
<rect x="519" y="172" width="5" height="13" fill="#00f"/>
<rect x="528" y="182" width="1" height="30" fill="#00f"/>
<rect x="526" y="185" width="5" height="22" fill="#00f"/>
<rect x="535" y="203" width="1" height="34" fill="#00f"/>
<rect x="533" y="210" width="5" height="21" fill="#00f"/>
<rect x="542" y="209" width="1" height="5" fill="#f00"/>
<rect x="542" y="231" width="1" height="1" fill="#f00"/>
<rect x="540.5" y="214.5" width="4" height="17" fill="none" stroke="#f00" stroke-width="1"/>
<rect x="549" y="210" width="1" height="22" fill="#00f"/>
<rect x="547" y="215" width="5" height="13" fill="#00f"/>
<rect x="556" y="219" width="1" height="20" fill="#00f"/>
<rect x="554" y="228" width="5" height="10" fill="#00f"/>
<rect x="563" y="229" width="1" height="12" fill="#f00"/>
<rect x="561" y="237" width="5" height="2" fill="#f00"/>
<rect x="570" y="218" width="1" height="8" fill="#f00"/>
<rect x="570" y="238" width="1" height="3" fill="#f00"/>
<rect x="568.5" y="226.5" width="4" height="12" fill="none" stroke="#f00" stroke-width="1"/>
<rect x="577" y="204" width="1" height="12" fill="#f00"/>
<rect x="577" y="223" width="1" height="7" fill="#f00"/>
<rect x="575.5" y="216.5" width="4" height="7" fill="none" stroke="#f00" stroke-width="1"/>
<rect x="584" y="164" width="1" height="11" fill="#f00"/>
<rect x="584" y="216" width="1" height="5" fill="#f00"/>
<rect x="582.5" y="175.5" width="4" height="41" fill="none" stroke="#f00" stroke-width="1"/>
<rect x="591" y="145" width="1" height="50" fill="#00f"/>
<rect x="589" y="176" width="5" height="17" fill="#00f"/>
<rect x="598" y="156" width="1" height="17" fill="#f00"/>
<rect x="598" y="190" width="1" height="12" fill="#f00"/>
<rect x="596.5" y="173.5" width="4" height="17" fill="none" stroke="#f00" stroke-width="1"/>
<rect x="605" y="113" width="1" height="10" fill="#f00"/>
<rect x="605" y="173" width="1" height="7" fill="#f00"/>
<rect x="603.5" y="123.5" width="4" height="50" fill="none" stroke="#f00" stroke-width="1"/>
<rect x="612" y="87" width="1" height="8" fill="#f00"/>
<rect x="610.5" y="95.5" width="4" height="29" fill="none" stroke="#f00" stroke-width="1"/>
<rect x="619" y="89" width="1" height="56" fill="#00f"/>
<rect x="617" y="96" width="5" height="40" fill="#00f"/>
<rect x="626" y="129" width="1" height="45" fill="#00f"/>
<rect x="624" y="135" width="5" height="33" fill="#00f"/>
<rect x="633" y="148" width="1" height="36" fill="#00f"/>
<rect x="631" y="167" width="5" height="2" fill="#00f"/>
<rect x="640" y="154" width="1" height="2" fill="#f00"/>
<rect x="640" y="168" width="1" height="16" fill="#f00"/>
<rect x="638.5" y="156.5" width="4" height="12" fill="none" stroke="#f00" stroke-width="1"/>
<rect x="647" y="145" width="1" height="23" fill="#00f"/>
<rect x="645" y="156" width="5" height="7" fill="#00f"/>
<rect x="654" y="148" width="1" height="7" fill="#f00"/>
<rect x="654" y="162" width="1" height="4" fill="#f00"/>
<rect x="652.5" y="155.5" width="4" height="7" fill="none" stroke="#f00" stroke-width="1"/>
<rect x="661" y="145" width="1" height="2" fill="#f00"/>
<rect x="661" y="156" width="1" height="16" fill="#f00"/>
<rect x="659.5" y="147.5" width="4" height="9" fill="none" stroke="#f00" stroke-width="1"/>
<rect x="668" y="114" width="1" height="5" fill="#f00"/>
<rect x="668" y="148" width="1" height="3" fill="#f00"/>
<rect x="666.5" y="119.5" width="4" height="29" fill="none" stroke="#f00" stroke-width="1"/>
<rect x="675" y="115" width="1" height="38" fill="#00f"/>
<rect x="673" y="118" width="5" height="29" fill="#00f"/>
<rect x="682" y="142" width="1" height="6" fill="#f00"/>
<rect x="682" y="161" width="1" height="9" fill="#f00"/>
<rect x="680.5" y="148.5" width="4" height="13" fill="none" stroke="#f00" stroke-width="1"/>
<rect x="689" y="145" width="1" height="11" fill="#f00"/>
<rect x="687.5" y="132.5" width="4" height="13" fill="none" stroke="#f00" stroke-width="1"/>
<rect x="696" y="129" width="1" height="23" fill="#00f"/>
<rect x="694" y="132" width="5" height="7" fill="#00f"/>
<rect x="703" y="119" width="1" height="7" fill="#f00"/>
<rect x="703" y="138" width="1" height="6" fill="#f00"/>
<rect x="701.5" y="126.5" width="4" height="12" fill="none" stroke="#f00" stroke-width="1"/>
<rect x="710" y="106" width="1" height="58" fill="#00f"/>
<rect x="708" y="127" width="5" height="19" fill="#00f"/>
<rect x="717" y="145" width="1" height="40" fill="#00f"/>
<rect x="715" y="146" width="5" height="27" fill="#00f"/>
<rect x="724" y="158" width="1" height="21" fill="#f00"/>
<rect x="722" y="171" width="5" height="2" fill="#f00"/>
<rect x="731" y="170" width="1" height="41" fill="#00f"/>
<rect x="729" y="172" width="5" height="27" fill="#00f"/>
<rect x="738" y="182" width="1" height="10" fill="#f00"/>
<rect x="738" y="198" width="1" height="18" fill="#f00"/>
<rect x="736.5" y="192.5" width="4" height="6" fill="none" stroke="#f00" stroke-width="1"/>
<rect x="745" y="181" width="1" height="32" fill="#f00"/>
<rect x="743" y="191" width="5" height="2" fill="#f00"/>
<rect x="752" y="188" width="1" height="32" fill="#00f"/>
<rect x="750" y="191" width="5" height="8" fill="#00f"/>
<rect x="759" y="150" width="1" height="23" fill="#f00"/>
<rect x="759" y="198" width="1" height="4" fill="#f00"/>
<rect x="757.5" y="173.5" width="4" height="25" fill="none" stroke="#f00" stroke-width="1"/>
<rect x="766" y="133" width="1" height="6" fill="#f00"/>
<rect x="766" y="173" width="1" height="5" fill="#f00"/>
<rect x="764.5" y="139.5" width="4" height="34" fill="none" stroke="#f00" stroke-width="1"/>
<rect x="773" y="124" width="1" height="34" fill="#00f"/>
<rect x="771" y="139" width="5" height="20" fill="#00f"/>
<rect x="780" y="120" width="1" height="18" fill="#f00"/>
<rect x="780" y="155" width="1" height="14" fill="#f00"/>
<rect x="778.5" y="138.5" width="4" height="17" fill="none" stroke="#f00" stroke-width="1"/>
<rect x="787" y="89" width="1" height="18" fill="#f00"/>
<rect x="787" y="137" width="1" height="16" fill="#f00"/>
<rect x="785.5" y="107.5" width="4" height="30" fill="none" stroke="#f00" stroke-width="1"/>
<rect x="794" y="94" width="1" height="67" fill="#00f"/>
<rect x="792" y="105" width="5" height="41" fill="#00f"/>
<rect x="801" y="143" width="1" height="69" fill="#00f"/>
<rect x="799" y="146" width="5" height="65" fill="#00f"/>
<rect x="808" y="212" width="1" height="34" fill="#00f"/>
<rect x="815" y="214" width="1" height="44" fill="#00f"/>
<rect x="813" y="215" width="5" height="41" fill="#00f"/>
<rect x="822" y="234" width="1" height="14" fill="#f00"/>
<rect x="822" y="255" width="1" height="21" fill="#f00"/>
<rect x="820.5" y="248.5" width="4" height="7" fill="none" stroke="#f00" stroke-width="1"/>
<rect x="829" y="244" width="1" height="14" fill="#00f"/>
<rect x="827" y="248" width="5" height="7" fill="#00f"/>
<rect x="836" y="255" width="1" height="5" fill="#f00"/>
<rect x="834.5" y="237.5" width="4" height="18" fill="none" stroke="#f00" stroke-width="1"/>
<rect x="843" y="236" width="1" height="29" fill="#00f"/>
<rect x="841" y="236" width="5" height="26" fill="#00f"/>
<rect x="850" y="213" width="1" height="57" fill="#00f"/>
<rect x="848" y="235" width="5" height="18" fill="#00f"/>
<rect x="857" y="230" width="1" height="11" fill="#f00"/>
<rect x="857" y="252" width="1" height="21" fill="#f00"/>
<rect x="855.5" y="241.5" width="4" height="11" fill="none" stroke="#f00" stroke-width="1"/>
<rect x="864" y="240" width="1" height="36" fill="#00f"/>
<rect x="862" y="241" width="5" height="29" fill="#00f"/>
<line x1="865.5" y1="242" x2="865.5" y2="269" stroke="#fff" stroke-width="1" stroke-dasharray="1 1"/>
</g>
<g clip-path="url(#plotclip2)">
<path d="M-3.0 160.0 L0.0 163.8 L3.5 168.1 L10.5 176.9 L17.5 189.4 L24.5 202.1 L31.5 221.7 L38.5 241.7 L45.5 258.6 L52.5 262.2 L59.5 262.9 L66.5 274.2 L73.5 267.1 L80.5 266.7 L87.5 270.0 L94.5 275.0 L101.5 268.6 L108.5 266.7 L115.5 264.5 L122.5 262.0 L129.5 254.0 L136.5 248.0 L143.5 245.2 L150.5 246.8 L157.5 247.3 L164.5 248.0 L171.5 249.4 L178.5 253.2 L185.5 255.8 L192.5 259.0 L199.5 262.9 L206.5 262.5 L213.5 262.2 L220.5 262.2 L227.5 262.3 L234.5 263.6 L241.5 264.2 L248.5 263.0 L255.5 259.0 L262.5 252.0 L269.5 242.0 L276.5 226.0 L283.5 217.8 L290.5 211.2 L297.5 209.0 L304.5 209.7 L311.5 209.4 L318.5 208.9 L325.5 201.3 L332.5 196.9 L339.5 194.4 L346.5 192.6 L353.5 191.7 L360.5 193.2 L367.5 195.2 L374.5 199.0 L381.5 206.1 L388.5 214.4 L395.5 215.7 L402.5 211.2 L409.5 211.0 L416.5 210.2 L423.5 209.3 L430.5 189.6 L437.5 156.0 L444.5 139.2 L451.5 130.2 L458.5 127.4 L465.5 125.1 L472.5 119.3 L479.5 113.5 L486.5 108.6 L493.5 108.6 L500.5 108.6 L507.5 108.6 L514.5 106.5 L521.5 106.5 L528.5 109.7 L535.5 112.9 L542.5 116.0 L549.5 118.0 L556.5 126.3 L563.5 134.0 L570.5 134.4 L577.5 134.7 L584.5 140.5 L591.5 144.3 L598.5 144.3 L605.5 123.8 L612.5 91.7 L619.5 82.9 L626.5 81.2 L633.5 79.3 L640.5 75.7 L647.5 73.1 L654.5 69.7 L661.5 65.4 L668.5 56.0 L675.5 52.6 L682.5 52.6 L689.5 50.0 L696.5 51.4 L703.5 55.1 L710.5 63.7 L717.5 73.1 L724.5 81.7 L731.5 77.4 L738.5 77.0 L745.5 75.3 L752.5 76.5 L759.5 90.0 L766.5 91.0 L773.5 90.8 L780.5 87.0 L787.5 78.0 L794.5 76.0 L801.5 70.9 L808.5 67.1 L815.5 60.0 L822.5 54.3 L829.5 49.4 L836.5 52.7 L843.5 52.3 L850.5 58.7 L857.5 64.5 L864.5 62.6" fill="none" stroke="#00ffff" stroke-width="1.3" stroke-linejoin="round" stroke-linecap="butt" />
<path d="M-3.0 550.0 L0.0 548.9 L3.5 548.0 L10.5 545.0 L17.5 540.0 L24.5 534.5 L31.5 524.5 L38.5 512.5 L45.5 503.8 L52.5 502.8 L59.5 502.0 L66.5 497.0 L73.5 490.5 L80.5 477.0 L87.5 459.9 L94.5 444.9 L101.5 441.7 L108.5 431.0 L115.5 424.6 L122.5 419.2 L129.5 420.9 L136.5 419.7 L143.5 414.9 L150.5 411.1 L157.5 411.5 L164.5 409.8 L171.5 406.9 L178.5 399.0 L185.5 395.8 L192.5 389.0 L199.5 383.0 L206.5 382.0 L213.5 385.3 L220.5 386.9 L227.5 388.9 L234.5 390.5 L241.5 391.8 L248.5 393.0 L255.5 395.6 L262.5 401.4 L269.5 405.9 L276.5 418.1 L283.5 422.6 L290.5 425.8 L297.5 423.8 L304.5 420.0 L311.5 415.5 L318.5 412.3 L325.5 412.9 L332.5 409.1 L339.5 405.0 L346.5 398.2 L353.5 392.2 L360.5 380.5 L367.5 372.4 L374.5 362.5 L381.5 346.0 L388.5 331.6 L395.5 327.5 L402.5 327.9 L409.5 327.7 L416.5 327.2 L423.5 328.4 L430.5 339.0 L437.5 361.6 L444.5 368.3 L451.5 363.5 L458.5 358.1 L465.5 349.1 L472.5 349.1 L479.5 349.1 L486.5 345.5 L493.5 341.4 L500.5 335.6 L507.5 330.0 L514.5 324.0 L517.0 321.6 L524.7 312.0 L534.3 303.3 L542.0 294.7 L549.7 291.8 L555.5 281.2 L563.2 269.7 L570.9 268.7 L577.7 269.7 L584.4 266.8 L591.1 264.8 L597.9 264.3 L605.6 281.2 L612.3 298.5 L619.1 303.3 L633.5 303.9 L640.2 301.4 L653.7 298.9 L661.4 299.5 L668.2 303.3 L674.9 301.4 L681.6 293.7 L689.3 287.9 L696.1 278.3 L702.8 264.8 L709.6 246.6 L717.5 229.3 L724.3 219.0 L732.0 226.1 L739.1 226.8 L746.1 230.6 L753.2 235.5 L759.6 229.3 L766.7 228.0 L775.0 227.0 L781.0 227.5 L787.4 232.3 L795.0 231.4 L801.8 244.8 L808.7 253.9 L815.5 272.1 L822.4 288.9 L829.2 304.1 L836.0 311.7 L843.3 323.9 L850.5 329.9 L857.3 333.3 L864.2 342.9" fill="none" stroke="#00ffff" stroke-width="1.3" stroke-linejoin="round" stroke-linecap="butt" />
<path d="M-3.0 224.0 L0.0 226.8 L3.5 229.8 L10.5 236.4 L17.5 245.0 L24.5 255.5 L31.5 270.6 L38.5 285.7 L45.5 300.0 L52.5 301.7 L59.5 303.0 L66.5 310.8 L73.5 304.1 L80.5 301.5 L87.5 301.1 L94.5 303.0 L101.5 295.9 L108.5 292.5 L115.5 290.2 L122.5 286.6 L129.5 278.9 L136.5 275.7 L143.5 274.5 L150.5 274.0 L157.5 274.0 L164.5 274.5 L171.5 275.7 L178.5 277.0 L185.5 278.9 L192.5 280.8 L199.5 282.8 L206.5 282.8 L213.5 282.1 L220.5 282.5 L227.5 283.5 L234.5 284.4 L241.5 284.8 L248.5 283.8 L255.5 280.6 L262.5 274.8 L269.5 269.7 L276.5 260.7 L283.5 253.0 L290.5 247.8 L297.5 245.0 L304.5 245.0 L311.5 244.2 L318.5 242.5 L325.5 237.4 L332.5 232.2 L339.5 228.5 L346.5 226.0 L353.5 225.1 L360.5 224.7 L367.5 224.7 L374.5 227.3 L381.5 230.5 L388.5 234.3 L395.5 234.3 L402.5 230.5 L409.5 230.7 L416.5 229.8 L423.5 228.5 L430.5 218.9 L437.5 194.0 L444.5 175.2 L451.5 170.0 L458.5 165.8 L465.5 163.8 L472.5 157.8 L479.5 152.0 L486.5 148.2 L493.5 146.9 L500.5 145.3 L507.5 143.7 L514.5 142.7 L521.5 141.8 L528.5 142.4 L535.5 144.3 L542.5 145.9 L549.5 147.5 L556.5 152.0 L563.5 155.9 L570.5 156.5 L577.5 157.2 L584.5 161.0 L591.5 163.6 L598.5 163.6 L605.5 148.2 L612.5 126.3 L619.5 118.6 L626.5 117.4 L633.5 116.1 L640.5 113.3 L647.5 110.3 L654.5 108.0 L661.5 102.0 L668.5 96.5 L675.5 93.6 L682.5 91.8 L689.5 90.0 L696.5 90.0 L703.5 91.0 L710.5 94.4 L717.5 99.5 L724.5 105.0 L731.5 102.1 L738.5 101.7 L745.5 100.6 L752.5 103.5 L759.5 113.1 L766.5 114.4 L773.5 113.4 L780.5 110.7 L787.5 103.7 L794.5 102.4 L801.5 99.2 L808.5 97.3 L815.5 95.1 L822.5 92.8 L829.5 91.5 L836.5 95.3 L843.5 97.6 L850.5 103.7 L857.5 109.2 L864.5 109.2" fill="none" stroke="#ff99cc" stroke-width="3.2" stroke-linejoin="round" stroke-linecap="butt" />
<path d="M-3.0 485.0 L0.0 484.5 L12.8 482.3 L23.5 478.0 L32.1 472.7 L45.0 463.1 L58.8 462.0 L66.5 457.7 L73.5 453.9 L80.5 442.8 L87.5 427.8 L94.5 416.0 L101.5 411.7 L108.5 405.3 L115.5 398.9 L122.5 393.5 L129.5 392.5 L136.5 390.5 L143.5 386.8 L150.5 383.7 L157.5 382.4 L164.5 381.1 L171.5 378.5 L178.5 374.7 L185.5 371.5 L192.5 365.7 L199.5 363.1 L206.5 362.5 L213.5 364.4 L220.5 367.0 L227.5 369.0 L234.5 370.0 L241.5 370.6 L248.5 371.9 L255.5 373.8 L262.5 376.3 L269.5 378.3 L276.5 385.3 L283.5 388.5 L290.5 389.8 L297.5 388.5 L304.5 385.3 L311.5 380.8 L318.5 378.3 L325.5 377.0 L332.5 373.1 L339.5 369.3 L346.5 363.5 L353.5 359.5 L360.5 351.5 L367.5 343.5 L374.5 334.5 L381.5 323.0 L388.5 311.5 L395.5 308.9 L402.5 307.9 L409.5 307.9 L416.5 307.6 L423.5 308.3 L430.5 315.3 L437.5 328.2 L444.5 330.2 L451.5 324.0 L459.3 316.8 L466.0 311.0 L476.6 310.1 L490.0 303.3 L503.5 295.6 L517.0 286.0 L524.7 278.3 L534.3 271.6 L542.0 264.8 L549.5 261.5 L556.5 253.5 L563.5 246.3 L570.5 244.0 L577.5 243.5 L584.5 243.5 L591.5 243.5 L598.5 244.6 L605.5 254.0 L612.5 263.5 L619.5 266.2 L626.5 266.0 L633.5 265.8 L640.5 263.9 L647.5 262.2 L654.5 261.0 L661.5 260.7 L668.5 262.0 L675.5 258.6 L682.5 252.0 L689.5 247.4 L696.5 239.6 L703.5 228.0 L710.5 215.2 L717.5 203.6 L724.5 195.9 L731.5 200.4 L738.5 201.3 L745.5 204.3 L752.5 208.8 L759.5 206.2 L766.5 205.7 L773.5 204.6 L780.5 204.0 L787.5 206.5 L794.5 205.9 L801.5 212.9 L808.5 224.0 L815.5 237.2 L822.5 252.4 L829.5 262.3 L836.5 268.3 L843.5 279.0 L850.5 284.3 L857.5 288.1 L864.5 295.7" fill="none" stroke="#ff99cc" stroke-width="3.2" stroke-linejoin="round" stroke-linecap="butt" />
<path d="M-3.0 288.0 L0.0 291.7 L3.5 294.0 L10.5 299.0 L17.5 305.5 L24.5 313.0 L31.5 323.0 L38.5 332.5 L45.5 338.0 L52.5 343.5 L59.5 345.0 L66.5 347.6 L73.5 343.4 L80.5 338.0 L87.5 333.3 L94.5 330.6 L101.5 324.9 L108.5 320.4 L115.5 316.8 L122.5 313.6 L129.5 308.4 L136.5 304.0 L143.5 302.0 L150.5 301.8 L157.5 301.8 L164.5 301.9 L171.5 302.0 L178.5 302.1 L185.5 302.3 L192.5 302.4 L199.5 302.5 L206.5 302.7 L213.5 303.0 L220.5 303.3 L227.5 305.0 L234.5 306.2 L241.5 306.9 L248.5 306.2 L255.5 304.3 L262.5 300.5 L269.5 296.6 L276.5 288.9 L283.5 285.7 L290.5 281.9 L297.5 280.6 L304.5 279.9 L311.5 278.6 L318.5 276.1 L325.5 271.6 L332.5 267.1 L339.5 264.2 L346.5 260.6 L353.5 257.6 L360.5 255.5 L367.5 254.2 L374.5 253.6 L381.5 253.6 L388.5 253.3 L395.5 252.3 L402.5 250.0 L409.5 249.7 L416.5 249.5 L423.5 249.1 L430.5 241.0 L437.5 227.0 L444.5 215.6 L451.5 207.9 L458.5 203.4 L465.5 200.2 L472.5 195.7 L479.5 189.9 L486.5 186.1 L493.5 184.5 L500.5 182.9 L507.5 180.9 L514.5 178.1 L521.5 176.5 L528.5 175.8 L535.5 175.8 L542.5 176.0 L549.5 175.5 L556.5 176.0 L563.5 176.4 L570.5 178.0 L577.5 179.5 L584.5 183.1 L591.5 184.1 L598.5 182.5 L605.5 173.8 L612.5 160.4 L619.5 156.5 L626.5 155.2 L633.5 153.3 L640.5 150.7 L647.5 148.2 L654.5 145.8 L661.5 142.4 L668.5 136.6 L675.5 133.4 L682.5 130.2 L689.5 127.4 L696.5 125.1 L703.5 123.8 L710.5 124.0 L717.5 125.7 L724.5 127.4 L731.5 127.0 L738.5 126.6 L745.5 127.0 L752.5 130.2 L759.5 136.0 L766.5 136.9 L773.5 136.3 L780.5 133.5 L787.5 129.9 L794.5 128.9 L801.5 128.9 L808.5 129.9 L815.5 131.5 L822.5 133.0 L829.5 135.0 L836.5 138.8 L843.5 143.6 L850.5 149.4 L857.5 153.5 L864.5 155.8" fill="none" stroke="#00ff00" stroke-width="3.4" stroke-linejoin="round" stroke-linecap="butt" />
<path d="M-3.0 419.0 L0.0 419.7 L15.0 423.5 L30.0 424.6 L45.0 422.8 L60.0 423.1 L66.5 421.4 L73.5 417.1 L80.5 408.5 L87.5 397.8 L94.5 387.5 L101.5 380.9 L108.5 374.0 L115.5 369.5 L122.5 366.5 L129.5 363.2 L136.5 360.4 L143.5 357.9 L150.5 356.0 L157.5 355.7 L164.5 355.0 L171.5 353.6 L178.5 350.2 L185.5 347.3 L192.5 344.2 L199.5 342.5 L206.5 342.4 L213.5 343.9 L220.5 345.5 L227.5 346.9 L234.5 348.0 L241.5 349.2 L248.5 350.0 L255.5 350.7 L262.5 351.3 L269.5 352.0 L276.5 353.9 L283.5 354.5 L290.5 353.9 L297.5 352.0 L304.5 349.4 L311.5 346.2 L318.5 344.3 L325.5 341.0 L332.5 337.2 L339.5 334.0 L346.5 328.8 L353.5 324.3 L360.5 319.2 L367.5 312.8 L374.5 306.3 L381.5 298.0 L388.5 292.2 L395.5 289.4 L402.5 288.6 L409.5 288.6 L416.5 288.4 L423.5 288.6 L430.5 290.3 L437.5 294.0 L444.5 292.5 L451.5 286.2 L459.3 279.3 L466.0 274.5 L476.6 270.6 L490.0 263.2 L503.5 256.8 L517.0 249.5 L524.7 245.0 L534.3 239.3 L542.5 236.0 L549.5 233.2 L556.5 226.8 L563.5 223.5 L570.5 223.2 L577.5 223.5 L584.5 223.5 L591.5 223.5 L598.5 223.5 L605.5 226.8 L612.5 229.3 L619.5 230.0 L626.5 230.0 L633.5 229.3 L640.5 226.8 L647.5 224.8 L654.5 223.0 L661.5 221.6 L668.5 220.6 L675.5 217.1 L682.5 212.0 L689.5 207.5 L696.5 201.1 L703.5 193.4 L710.5 184.4 L717.5 176.7 L724.5 172.8 L731.5 176.0 L738.5 176.0 L745.5 178.0 L752.5 182.8 L759.5 183.4 L766.5 183.4 L773.5 182.0 L780.5 180.8 L787.5 180.5 L794.5 180.2 L801.5 185.3 L808.5 190.5 L815.5 202.0 L822.5 212.3 L829.5 220.6 L836.5 226.4 L843.5 234.1 L850.5 239.4 L857.5 243.3 L864.5 248.6" fill="none" stroke="#00ff00" stroke-width="3.4" stroke-linejoin="round" stroke-linecap="butt" />
<path d="M-3.0 353.5 L0.0 355.3 L3.5 357.0 L10.5 361.0 L17.5 365.5 L24.5 370.0 L31.5 375.0 L38.5 379.0 L45.5 381.0 L52.5 382.4 L59.5 382.9 L66.5 384.6 L73.5 379.7 L80.5 372.0 L87.5 364.9 L94.5 358.3 L101.5 352.3 L108.5 347.2 L115.5 342.5 L122.5 338.5 L129.5 334.6 L136.5 331.5 L143.5 329.5 L150.5 328.7 L157.5 328.2 L164.5 327.5 L171.5 326.4 L178.5 325.5 L185.5 324.6 L192.5 323.7 L199.5 323.0 L206.5 323.1 L213.5 323.3 L220.5 324.8 L227.5 326.3 L234.5 327.7 L241.5 328.1 L248.5 327.7 L255.5 326.4 L262.5 324.2 L269.5 322.3 L276.5 320.4 L283.5 319.1 L290.5 317.4 L297.5 315.9 L304.5 313.9 L311.5 312.0 L318.5 309.2 L325.5 305.0 L332.5 300.5 L339.5 297.5 L346.5 295.5 L353.5 292.2 L360.5 288.4 L367.5 283.9 L374.5 280.0 L381.5 276.2 L388.5 273.0 L395.5 270.4 L402.5 268.9 L409.5 268.9 L416.5 269.1 L423.5 268.5 L430.5 265.6 L437.5 258.8 L444.5 252.3 L451.5 246.2 L458.5 242.2 L465.5 238.7 L472.5 234.9 L479.5 231.0 L486.5 227.2 L493.5 223.3 L500.5 220.1 L507.5 216.9 L514.5 213.7 L521.5 210.5 L528.5 207.9 L535.5 206.0 L542.5 205.2 L549.5 203.6 L556.5 202.4 L563.5 201.3 L570.5 201.3 L577.5 202.1 L584.5 203.4 L591.5 204.3 L598.5 203.6 L605.5 200.8 L612.5 195.3 L619.5 192.1 L626.5 190.6 L633.5 188.9 L640.5 187.6 L647.5 185.7 L654.5 184.0 L661.5 182.3 L668.5 178.7 L675.5 175.1 L682.5 170.6 L689.5 166.8 L696.5 162.3 L703.5 157.2 L710.5 153.3 L717.5 150.7 L724.5 149.7 L731.5 150.5 L738.5 151.4 L745.5 152.7 L752.5 157.2 L759.5 159.7 L766.5 160.0 L773.5 158.8 L780.5 157.1 L787.5 155.6 L794.5 154.8 L801.5 157.1 L808.5 160.7 L815.5 167.4 L822.5 172.8 L829.5 177.6 L836.5 182.8 L843.5 188.5 L850.5 194.3 L857.5 198.8 L864.5 202.7" fill="none" stroke="#00c4ff" stroke-width="3.2" stroke-linejoin="round" stroke-linecap="butt" />
<path d="M-3.0 327.5 L0.0 327.5 L30.0 327.8 L60.0 328.8 L90.0 328.4 L101.5 327.4 L115.5 326.2 L129.5 324.6 L143.5 323.4 L157.5 323.6 L171.5 324.5 L192.0 324.5 L206.0 324.0 L213.5 323.6 L220.5 323.2 L227.5 322.3 L235.0 320.7 L241.5 319.7 L255.5 316.5 L269.5 313.9 L283.5 315.6 L297.5 317.2 L311.5 318.4 L325.5 319.1 L339.5 318.2 L348.0 317.4 L360.5 317.6 L381.5 318.5 L402.5 319.2 L416.5 318.9 L430.5 317.6 L444.5 315.0 L459.3 312.0 L486.2 307.8 L507.4 303.3 L517.0 299.5 L536.3 291.8 L555.5 286.0 L574.8 281.2 L594.0 275.8 L605.6 271.6 L614.3 266.8 L626.6 262.7 L640.2 258.1 L647.6 255.6 L655.0 253.5 L672.0 248.5 L696.3 242.2 L717.5 236.0 L739.1 230.0 L759.6 225.5 L775.0 221.6 L781.0 218.1 L794.5 213.6 L808.6 210.4 L822.8 208.4 L836.5 207.2 L850.4 206.5 L864.5 206.1" fill="none" stroke="#00ffff" stroke-width="2.2" stroke-linejoin="round" stroke-linecap="butt" />
<path d="M-3.5 285.1 L3.5 305.0 L10.5 332.0 L17.5 350.3 L24.5 349.6 L31.5 340.2 L38.5 336.4 L45.5 346.1 L52.5 336.4 L59.5 348.5 L66.5 336.4 L73.5 347.7 L80.5 340.4 L87.5 340.7 L94.5 345.0 L101.5 337.2 L108.5 299.2 L115.5 286.1 L122.5 270.3 L129.5 277.0 L136.5 237.3 L143.5 258.0 L150.5 267.7 L157.5 288.3 L164.5 322.3 L171.5 303.0 L178.5 297.9 L185.5 256.2 L192.5 262.6 L199.5 269.4 L206.5 263.3 L213.5 267.2 L220.5 260.9 L227.5 262.7 L234.5 266.5 L241.5 261.5 L248.5 257.0 L255.5 259.8 L262.5 242.0 L269.5 275.5 L276.5 266.6 L283.5 231.8 L290.5 202.2 L297.5 156.3 L304.5 173.2 L311.5 173.0 L318.5 187.0 L325.5 207.3 L332.5 189.9 L339.5 179.0 L346.5 181.6 L353.5 215.6 L360.5 206.4 L367.5 204.1 L374.5 185.8 L381.5 183.5 L388.5 206.0 L395.5 230.4 L402.5 214.3 L409.5 227.4 L416.5 237.0 L423.5 237.7 L430.5 226.1 L437.5 216.5 L444.5 175.4 L451.5 191.5 L458.5 172.8 L465.5 123.0 L472.5 94.9 L479.5 134.7 L486.5 167.4 L493.5 168.2 L500.5 156.5 L507.5 162.4 L514.5 155.2 L521.5 147.1 L528.5 118.6 L535.5 146.2 L542.5 147.5 L549.5 132.5 L556.5 138.5 L563.5 126.3 L570.5 145.3 L577.5 172.4 L584.5 171.0 L591.5 198.5 L598.5 192.3 L605.5 191.5 L612.5 197.9 L619.5 173.4 L626.5 139.2 L633.5 157.5 L640.5 137.6 L647.5 107.0 L654.5 144.9 L661.5 210.4 L668.5 215.5 L675.5 254.8 L682.5 248.0 L689.5 253.9 L696.5 237.2 L703.5 260.9 L710.5 251.6 L717.5 241.2" fill="none" stroke="#ff0000" stroke-width="3.5" stroke-linejoin="round"/>
<path d="M-3.5 285.1 L3.5 305.0 L10.5 332.0 L17.5 350.3 L24.5 349.6 L31.5 340.2 L38.5 336.4 L45.5 346.1 L52.5 336.4 L59.5 348.5 L66.5 336.4 L73.5 347.7 L80.5 340.4 L87.5 340.7 L94.5 345.0 L101.5 337.2 L108.5 299.2 L115.5 286.1 L122.5 270.3 L129.5 277.0 L136.5 237.3 L143.5 258.0 L150.5 267.7 L157.5 288.3 L164.5 322.3 L171.5 303.0 L178.5 297.9 L185.5 256.2 L192.5 262.6 L199.5 269.4 L206.5 263.3 L213.5 267.2 L220.5 260.9 L227.5 262.7 L234.5 266.5 L241.5 261.5 L248.5 257.0 L255.5 259.8 L262.5 242.0 L269.5 275.5 L276.5 266.6 L283.5 231.8 L290.5 202.2 L297.5 156.3 L304.5 173.2 L311.5 173.0 L318.5 187.0 L325.5 207.3 L332.5 189.9 L339.5 179.0 L346.5 181.6 L353.5 215.6 L360.5 206.4 L367.5 204.1 L374.5 185.8 L381.5 183.5 L388.5 206.0 L395.5 230.4 L402.5 214.3 L409.5 227.4 L416.5 237.0 L423.5 237.7 L430.5 226.1 L437.5 216.5 L444.5 175.4 L451.5 191.5 L458.5 172.8 L465.5 123.0 L472.5 94.9 L479.5 134.7 L486.5 167.4 L493.5 168.2 L500.5 156.5 L507.5 162.4 L514.5 155.2 L521.5 147.1 L528.5 118.6 L535.5 146.2 L542.5 147.5 L549.5 132.5 L556.5 138.5 L563.5 126.3 L570.5 145.3 L577.5 172.4 L584.5 171.0 L591.5 198.5 L598.5 192.3 L605.5 191.5 L612.5 197.9 L619.5 173.4 L626.5 139.2 L633.5 157.5 L640.5 137.6 L647.5 107.0 L654.5 144.9 L661.5 210.4 L668.5 215.5 L675.5 254.8 L682.5 248.0 L689.5 253.9 L696.5 237.2 L703.5 260.9 L710.5 251.6 L717.5 241.2" fill="none" stroke="#ff0000" stroke-width="2.1" stroke-linejoin="miter" stroke-miterlimit="12"/>
</g>
<g shape-rendering="crispEdges" fill="#ff00ff">
<rect x="0" y="259" width="124" height="3"/>
<rect x="129" y="272" width="65" height="3"/>
<rect x="157" y="386" width="331" height="3"/>
<rect x="0" y="467" width="180" height="3"/>
<rect x="619" y="86" width="240" height="3"/>
<rect x="626" y="185" width="51" height="3"/>
<rect x="563" y="240" width="282" height="4"/>
<rect x="745" y="213" width="65" height="3"/>
</g>
<rect x="186" y="357" width="56.5" height="22.5" fill="none" stroke="#ff00ff" stroke-width="2" shape-rendering="crispEdges"/>
<rect x="305" y="345" width="56" height="3.5" fill="#fff" stroke="#ff00ff" stroke-width="2" shape-rendering="crispEdges"/>
<g clip-path="url(#plotclip2)">
<g shape-rendering="crispEdges" fill="#ffb9c9">
<rect x="2" y="642" width="4" height="32"/>
<rect x="9" y="640" width="4" height="34"/>
<rect x="16" y="648" width="4" height="26"/>
<rect x="23" y="648" width="4" height="26"/>
<rect x="30" y="648" width="4" height="26"/>
<rect x="37" y="649" width="4" height="25"/>
<rect x="44" y="650" width="4" height="24"/>
<rect x="51" y="652" width="4" height="22"/>
<rect x="58" y="654" width="4" height="20"/>
<rect x="65" y="656" width="4" height="18"/>
<rect x="72" y="656" width="4" height="18"/>
<rect x="79" y="656" width="4" height="18"/>
<rect x="86" y="658" width="4" height="16"/>
<rect x="93" y="662" width="4" height="12"/>
<rect x="100" y="666" width="4" height="8"/>
<rect x="107" y="666" width="4" height="8"/>
<rect x="114" y="666" width="4" height="8"/>
<rect x="121" y="667" width="4" height="7"/>
<rect x="128" y="667" width="4" height="7"/>
<rect x="135" y="668" width="4" height="6"/>
<rect x="142" y="673" width="4" height="1"/>
<rect x="149" y="674" width="4" height="7"/>
<rect x="156" y="674" width="4" height="12"/>
<rect x="163" y="674" width="4" height="16"/>
<rect x="170" y="674" width="4" height="18"/>
<rect x="177" y="674" width="4" height="17"/>
<rect x="184" y="674" width="4" height="14"/>
<rect x="191" y="674" width="4" height="11"/>
<rect x="198" y="674" width="4" height="10"/>
<rect x="205" y="674" width="4" height="6"/>
<rect x="212" y="674" width="4" height="6"/>
<rect x="219" y="674" width="4" height="4"/>
<rect x="226" y="674" width="4" height="2"/>
<rect x="233" y="674" width="4" height="1"/>
<rect x="240" y="672" width="4" height="2"/>
<rect x="247" y="663" width="4" height="11"/>
<rect x="254" y="656" width="4" height="18"/>
<rect x="261" y="650" width="4" height="24"/>
<rect x="268" y="648" width="4" height="26"/>
<rect x="275" y="641" width="4" height="33"/>
<rect x="282" y="644" width="4" height="30"/>
<rect x="289" y="652" width="4" height="22"/>
<rect x="296" y="661" width="4" height="13"/>
<rect x="303" y="674" width="4" height="4"/>
<rect x="310" y="674" width="4" height="11"/>
<rect x="317" y="674" width="4" height="14"/>
<rect x="324" y="674" width="4" height="8"/>
<rect x="331" y="674" width="4" height="5"/>
<rect x="338" y="674" width="4" height="3"/>
<rect x="345" y="673" width="4" height="1"/>
<rect x="352" y="672" width="4" height="2"/>
<rect x="359" y="671" width="4" height="3"/>
<rect x="366" y="672" width="4" height="2"/>
<rect x="373" y="674" width="4" height="2"/>
<rect x="380" y="674" width="4" height="3"/>
<rect x="387" y="674" width="4" height="4"/>
<rect x="394" y="674" width="4" height="4"/>
<rect x="401" y="674" width="4" height="2"/>
<rect x="408" y="674" width="4" height="7"/>
<rect x="415" y="674" width="4" height="8"/>
<rect x="422" y="674" width="4" height="2"/>
<rect x="429" y="666" width="4" height="8"/>
<rect x="436" y="653" width="4" height="21"/>
<rect x="443" y="648" width="4" height="26"/>
<rect x="450" y="648" width="4" height="26"/>
<rect x="457" y="652" width="4" height="22"/>
<rect x="464" y="661" width="4" height="13"/>
<rect x="471" y="666" width="4" height="8"/>
<rect x="478" y="669" width="4" height="5"/>
<rect x="485" y="673" width="4" height="1"/>
<rect x="492" y="674" width="4" height="10"/>
<rect x="499" y="674" width="4" height="14"/>
<rect x="506" y="674" width="4" height="15"/>
<rect x="513" y="674" width="4" height="12"/>
<rect x="520" y="674" width="4" height="9"/>
<rect x="527" y="674" width="4" height="12"/>
<rect x="534" y="674" width="4" height="19"/>
<rect x="541" y="674" width="4" height="17"/>
<rect x="548" y="674" width="4" height="20"/>
<rect x="555" y="674" width="4" height="21"/>
<rect x="562" y="674" width="4" height="22"/>
<rect x="569" y="674" width="4" height="17"/>
<rect x="576" y="674" width="4" height="12"/>
<rect x="583" y="674" width="4" height="1"/>
<rect x="590" y="670" width="4" height="4"/>
<rect x="597" y="663" width="4" height="11"/>
<rect x="604" y="650" width="4" height="24"/>
<rect x="611" y="638" width="4" height="36"/>
<rect x="618" y="641" width="4" height="33"/>
<rect x="625" y="653" width="4" height="21"/>
<rect x="632" y="662" width="4" height="12"/>
<rect x="639" y="668" width="4" height="6"/>
<rect x="646" y="673" width="4" height="1"/>
<rect x="653" y="674" width="4" height="5"/>
<rect x="660" y="674" width="4" height="6"/>
<rect x="667" y="674" width="4" height="2"/>
<rect x="674" y="674" width="4" height="2"/>
<rect x="681" y="674" width="4" height="4"/>
<rect x="688" y="674" width="4" height="2"/>
<rect x="695" y="674" width="4" height="2"/>
<rect x="702" y="674" width="4" height="4"/>
<rect x="709" y="674" width="4" height="8"/>
<rect x="716" y="674" width="4" height="13"/>
<rect x="723" y="674" width="4" height="19"/>
<rect x="730" y="674" width="4" height="25"/>
<rect x="737" y="674" width="4" height="27"/>
<rect x="744" y="674" width="4" height="28"/>
<rect x="751" y="674" width="4" height="26"/>
<rect x="758" y="674" width="4" height="19"/>
<rect x="765" y="674" width="4" height="7"/>
<rect x="772" y="674" width="4" height="1"/>
<rect x="779" y="667" width="4" height="7"/>
<rect x="786" y="655" width="4" height="19"/>
<rect x="793" y="657" width="4" height="17"/>
<rect x="807" y="674" width="4" height="9"/>
<rect x="814" y="674" width="4" height="23"/>
<rect x="821" y="674" width="4" height="32"/>
<rect x="828" y="674" width="4" height="35"/>
<rect x="835" y="674" width="4" height="31"/>
<rect x="842" y="674" width="4" height="29"/>
<rect x="849" y="674" width="4" height="24"/>
<rect x="856" y="674" width="4" height="14"/>
<rect x="863" y="674" width="4" height="12"/>
</g>
<path d="M-3.0 712.0 L0.0 709.4 L11.8 696.5 L17.0 694.0 L35.3 677.6 L54.1 668.2 L68.2 663.5 L77.6 656.5 L89.4 652.9 L101.2 652.9 L112.9 647.0 L124.7 642.4 L136.5 641.2 L143.5 644.7 L152.9 655.3 L162.4 664.7 L171.8 671.8 L183.5 675.3 L195.3 678.8 L205.5 680.0 L213.8 681.8 L227.5 680.1 L241.3 677.6 L247.5 668.8 L255.1 657.6 L262.1 648.8 L268.8 643.8 L276.3 632.5 L283.8 628.8 L290.1 628.8 L296.3 635.0 L303.9 647.6 L311.4 651.3 L318.1 654.6 L325.1 648.8 L332.6 645.6 L340.1 645.1 L350.2 644.6 L362.7 645.6 L375.2 648.8 L387.7 648.8 L395.2 650.6 L402.2 648.8 L410.2 654.6 L416.5 657.1 L422.7 652.6 L429.0 643.8 L430.5 643.0 L437.5 627.5 L444.5 619.5 L451.5 615.0 L458.5 615.5 L465.5 621.3 L472.5 622.5 L479.5 622.5 L484.0 622.5 L487.6 625.0 L493.5 631.3 L500.5 636.3 L507.5 640.8 L514.5 640.8 L520.5 641.3 L528.5 647.6 L535.5 655.8 L542.5 659.6 L549.5 666.3 L556.5 672.6 L563.5 676.3 L570.5 677.6 L577.5 676.3 L584.5 667.6 L591.5 663.8 L598.5 658.1 L605.5 642.6 L612.5 627.0 L619.5 624.5 L626.5 630.3 L633.5 634.9 L640.5 636.8 L647.5 639.5 L654.5 640.3 L661.5 639.8 L668.5 637.5 L675.5 639.5 L682.5 641.7 L689.5 641.7 L696.5 642.5 L703.5 642.3 L710.5 646.7 L717.5 654.2 L724.5 661.2 L731.5 670.9 L738.5 678.4 L745.5 684.8 L752.5 689.0 L759.5 686.8 L766.5 679.3 L773.5 675.1 L780.5 666.7 L787.5 658.4 L794.5 658.4 L801.5 670.9 L808.5 684.8 L815.5 698.7 L822.5 709.8 L829.5 717.4 L836.5 718.8 L843.5 723.8 L850.5 724.8 L857.5 721.8 L864.5 725.2" fill="none" stroke="#00ffff" stroke-width="2.2" stroke-linejoin="round" stroke-linecap="butt" />
<path d="M-3.0 742.0 L0.0 738.8 L9.4 728.2 L17.0 720.0 L35.3 703.5 L54.1 690.6 L70.6 680.0 L89.4 668.2 L105.9 658.8 L122.4 650.6 L136.5 647.0 L150.6 645.9 L164.7 650.6 L178.8 657.6 L192.9 667.1 L205.5 672.8 L213.8 676.3 L227.5 679.6 L241.3 680.1 L255.1 677.6 L268.8 670.1 L283.8 657.6 L296.3 647.6 L303.9 643.1 L311.4 641.3 L325.1 641.3 L332.6 642.1 L340.1 643.8 L350.2 646.3 L362.7 647.6 L382.7 647.1 L402.2 648.1 L416.5 650.1 L425.2 650.6 L432.5 649.6 L444.5 643.8 L458.5 636.3 L472.5 628.8 L484.0 623.3 L493.5 621.8 L500.5 623.0 L514.5 628.0 L528.5 634.5 L542.5 643.8 L556.5 653.8 L570.5 661.3 L584.5 666.3 L595.0 668.3 L605.5 666.3 L612.5 661.3 L619.5 655.3 L626.5 649.6 L633.5 645.1 L640.5 641.3 L647.5 638.6 L654.5 637.0 L661.5 635.3 L668.5 634.8 L682.5 637.5 L696.5 639.8 L710.5 640.9 L724.5 644.5 L738.5 652.8 L752.5 663.4 L766.5 672.9 L780.5 677.3 L790.8 675.6 L801.5 674.2 L815.5 676.5 L829.5 684.3 L843.5 695.9 L853.3 705.7 L864.5 713.5" fill="none" stroke="#00ff00" stroke-width="2.2" stroke-linejoin="round" stroke-linecap="butt" />
<path d="M-3.0 791.0 L5.0 791.6 L16.2 792.1 L27.5 796.6 L49.9 797.7 L83.6 798.4 L117.3 797.0 L139.8 795.5 L162.2 796.1 L200.0 795.5 L234.2 798.6 L268.4 797.2 L302.7 793.5 L336.9 792.4 L371.1 795.2 L405.3 798.3 L439.6 795.5 L473.8 794.5 L494.2 794.5 L528.4 796.2 L572.9 798.6 L603.7 796.2 L638.0 794.8 L672.2 794.1 L706.4 796.9 L733.8 797.9 L780.0 796.0 L801.6 793.7 L821.4 793.7 L843.0 794.5 L864.5 794.2" fill="none" stroke="#22ff44" stroke-width="1.4" stroke-linejoin="round" stroke-linecap="butt" />
</g>
<g shape-rendering="crispEdges" fill="#ff00ff">
<rect x="620" y="656" width="86" height="3"/>
<rect x="620" y="655" width="2" height="5"/>
<rect x="704" y="655" width="2" height="5"/>
<rect x="620" y="671" width="58" height="3"/>
<rect x="620" y="670" width="2" height="5"/>
<rect x="676" y="670" width="2" height="5"/>
<rect x="682" y="690" width="59" height="3"/>
<rect x="682" y="689" width="2" height="5"/>
<rect x="739" y="689" width="2" height="5"/>
</g>
<text transform="scale(0.6783,1)" x="961.55 968.18 976.29 985.88" y="649.50" font-family="Liberation Sans" font-size="13.26" fill="#ff00ff" stroke="#ff00ff" stroke-width="0.25">(13)</text>
<text transform="scale(0.6783,1)" x="944.60 951.23 960.81" y="664.00" font-family="Liberation Sans" font-size="13.26" fill="#ff00ff" stroke="#ff00ff" stroke-width="0.25">(3)</text>
<text transform="scale(0.6783,1)" x="1037.47 1044.10 1053.69" y="684.50" font-family="Liberation Sans" font-size="13.26" fill="#ff00ff" stroke="#ff00ff" stroke-width="0.25">(9)</text>
<rect x="14" y="393" width="2.00" height="2.00" fill="#000"/>
<text transform="scale(0.7400,1)" x="-7.74 0.37 8.47 24.69 32.80 40.91" y="395.00" font-family="Liberation Sans" font-size="13.26" fill="#000" stroke="#000" stroke-width="0.25">199227</text>
<rect x="127" y="269" width="2.00" height="2.00" fill="#000"/>
<text transform="scale(0.7400,1)" x="144.96 153.07 161.18 177.39 185.50 193.61" y="271.00" font-family="Liberation Sans" font-size="13.26" fill="#000" stroke="#000" stroke-width="0.25">199809</text>
<rect x="190" y="319" width="2.00" height="2.00" fill="#000"/>
<text transform="scale(0.7400,1)" x="230.10 238.20 246.31 262.53 270.64 278.75" y="321.00" font-family="Liberation Sans" font-size="13.26" fill="#000" stroke="#000" stroke-width="0.25">199551</text>
<rect x="120" y="356" width="2.00" height="2.00" fill="#000"/>
<text transform="scale(0.7400,1)" x="135.50 143.61 151.72 167.93 176.04 184.15" y="358.00" font-family="Liberation Sans" font-size="13.26" fill="#000" stroke="#000" stroke-width="0.25">199412</text>
<rect x="155" y="377" width="2.00" height="2.00" fill="#000"/>
<text transform="scale(0.7400,1)" x="182.80 190.91 199.02 215.23 223.34 231.45" y="379.00" font-family="Liberation Sans" font-size="13.26" fill="#000" stroke="#000" stroke-width="0.25">199308</text>
<rect x="211" y="371" width="2.00" height="2.00" fill="#000"/>
<text transform="scale(0.7400,1)" x="258.47 266.58 274.69 290.91 299.02 307.12" y="373.00" font-family="Liberation Sans" font-size="13.26" fill="#000" stroke="#000" stroke-width="0.25">199335</text>
<rect x="288" y="208" width="2.00" height="2.00" fill="#000"/>
<text transform="scale(0.7400,1)" x="362.53 370.64 378.75 394.96 403.07 411.18" y="210.00" font-family="Liberation Sans" font-size="13.26" fill="#000" stroke="#000" stroke-width="0.25">200112</text>
<rect x="331" y="237" width="2.00" height="2.00" fill="#000"/>
<text transform="scale(0.7400,1)" x="419.96 428.07 436.18 452.39 460.50 468.61" y="239.00" font-family="Liberation Sans" font-size="13.26" fill="#000" stroke="#000" stroke-width="0.25">199968</text>
<rect x="303" y="363" width="2.00" height="2.00" fill="#000"/>
<text transform="scale(0.7400,1)" x="382.80 390.91 399.02 415.23 423.34 431.45" y="365.00" font-family="Liberation Sans" font-size="13.26" fill="#000" stroke="#000" stroke-width="0.25">199378</text>
<rect x="380" y="295" width="2.00" height="2.00" fill="#000"/>
<text transform="scale(0.7400,1)" x="486.85 494.96 503.07 519.29 527.39 535.50" y="297.00" font-family="Liberation Sans" font-size="13.26" fill="#000" stroke="#000" stroke-width="0.25">199720</text>
<rect x="415" y="305" width="2.00" height="2.00" fill="#000"/>
<text transform="scale(0.7400,1)" x="534.15 542.26 550.37 566.58 574.69 582.80" y="307.00" font-family="Liberation Sans" font-size="13.26" fill="#000" stroke="#000" stroke-width="0.25">199670</text>
<rect x="442" y="133" width="2.00" height="2.00" fill="#000"/>
<text transform="scale(0.7400,1)" x="570.64 578.75 586.85 603.07 611.18 619.29" y="135.50" font-family="Liberation Sans" font-size="13.26" fill="#000" stroke="#000" stroke-width="0.25">200486</text>
<rect x="519" y="147" width="2.00" height="2.00" fill="#000"/>
<text transform="scale(0.7400,1)" x="674.69 682.80 690.91 707.12 715.23 723.34" y="149.00" font-family="Liberation Sans" font-size="13.26" fill="#000" stroke="#000" stroke-width="0.25">200420</text>
<rect x="498" y="229" width="2.00" height="2.00" fill="#000"/>
<text transform="scale(0.7400,1)" x="646.31 654.42 662.53 678.75 686.85 694.96" y="231.00" font-family="Liberation Sans" font-size="13.26" fill="#000" stroke="#000" stroke-width="0.25">200058</text>
<rect x="562" y="254" width="2.00" height="2.00" fill="#000"/>
<text transform="scale(0.7400,1)" x="732.80 740.91 749.02 765.23 773.34 781.45" y="256.00" font-family="Liberation Sans" font-size="13.26" fill="#000" stroke="#000" stroke-width="0.25">199928</text>
<rect x="610" y="82" width="2.00" height="2.00" fill="#000"/>
<text transform="scale(0.7400,1)" x="797.66 805.77 813.88 830.10 838.20 846.31" y="84.00" font-family="Liberation Sans" font-size="13.26" fill="#000" stroke="#000" stroke-width="0.25">200750</text>
<rect x="631" y="196" width="2.00" height="2.00" fill="#000"/>
<text transform="scale(0.7400,1)" x="826.04 834.15 842.26 858.47 866.58 874.69" y="198.00" font-family="Liberation Sans" font-size="13.26" fill="#000" stroke="#000" stroke-width="0.25">200226</text>
<rect x="666" y="110" width="2.00" height="2.00" fill="#000"/>
<text transform="scale(0.7400,1)" x="873.34 881.45 889.56 905.77 913.88 921.99" y="112.00" font-family="Liberation Sans" font-size="13.26" fill="#000" stroke="#000" stroke-width="0.25">200608</text>
<rect x="708" y="102" width="2.00" height="2.00" fill="#000"/>
<text transform="scale(0.7400,1)" x="930.10 938.20 946.31 962.53 970.64 978.75" y="104.00" font-family="Liberation Sans" font-size="13.26" fill="#000" stroke="#000" stroke-width="0.25">200651</text>
<rect x="785" y="83" width="2.00" height="2.00" fill="#000"/>
<text transform="scale(0.7400,1)" x="1034.15 1042.26 1050.37 1066.58 1074.69 1082.80" y="85.50" font-family="Liberation Sans" font-size="13.26" fill="#000" stroke="#000" stroke-width="0.25">200740</text>
<rect x="750" y="225" width="2.00" height="2.00" fill="#000"/>
<text transform="scale(0.7400,1)" x="986.85 994.96 1003.07 1019.29 1027.39 1035.50" y="227.00" font-family="Liberation Sans" font-size="13.26" fill="#000" stroke="#000" stroke-width="0.25">200078</text>
<rect x="821" y="282" width="2.00" height="2.00" fill="#000"/>
<text transform="scale(0.7400,1)" x="1082.80 1090.91 1099.02 1115.23 1123.34 1131.45" y="284.00" font-family="Liberation Sans" font-size="13.26" fill="#000" stroke="#000" stroke-width="0.25">199788</text>
<rect x="904" y="38" width="2.00" height="2.00" fill="#000"/>
<text transform="scale(0.7400,1)" x="1194.29 1202.39 1210.50 1226.72 1234.83" y="40.20" font-family="Liberation Sans" font-size="13.26" fill="#000" stroke="#000" stroke-width="0.25">20100</text>
<rect x="904" y="87" width="2.00" height="2.00" fill="#000"/>
<text transform="scale(0.7400,1)" x="1194.29 1202.39 1210.50 1226.72 1234.83" y="89.20" font-family="Liberation Sans" font-size="13.26" fill="#000" stroke="#000" stroke-width="0.25">20075</text>
<rect x="904" y="137" width="2.00" height="2.00" fill="#000"/>
<text transform="scale(0.7400,1)" x="1194.29 1202.39 1210.50 1226.72 1234.83" y="139.20" font-family="Liberation Sans" font-size="13.26" fill="#000" stroke="#000" stroke-width="0.25">20050</text>
<rect x="904" y="186" width="2.00" height="2.00" fill="#000"/>
<text transform="scale(0.7400,1)" x="1194.29 1202.39 1210.50 1226.72 1234.83" y="188.20" font-family="Liberation Sans" font-size="13.26" fill="#000" stroke="#000" stroke-width="0.25">20025</text>
<rect x="904" y="235" width="2.00" height="2.00" fill="#000"/>
<text transform="scale(0.7400,1)" x="1194.29 1202.39 1210.50 1226.72 1234.83" y="237.20" font-family="Liberation Sans" font-size="13.26" fill="#000" stroke="#000" stroke-width="0.25">20000</text>
<rect x="904" y="284" width="2.00" height="2.00" fill="#000"/>
<text transform="scale(0.7400,1)" x="1194.29 1202.39 1210.50 1226.72 1234.83" y="286.20" font-family="Liberation Sans" font-size="13.26" fill="#000" stroke="#000" stroke-width="0.25">19975</text>
<rect x="904" y="334" width="2.00" height="2.00" fill="#000"/>
<text transform="scale(0.7400,1)" x="1194.29 1202.39 1210.50 1226.72 1234.83" y="336.20" font-family="Liberation Sans" font-size="13.26" fill="#000" stroke="#000" stroke-width="0.25">19950</text>
<rect x="904" y="383" width="2.00" height="2.00" fill="#000"/>
<text transform="scale(0.7400,1)" x="1194.29 1202.39 1210.50 1226.72 1234.83" y="385.20" font-family="Liberation Sans" font-size="13.26" fill="#000" stroke="#000" stroke-width="0.25">19925</text>
<rect x="904" y="432" width="2.00" height="2.00" fill="#000"/>
<text transform="scale(0.7400,1)" x="1194.29 1202.39 1210.50 1226.72 1234.83" y="434.20" font-family="Liberation Sans" font-size="13.26" fill="#000" stroke="#000" stroke-width="0.25">19900</text>
<rect x="904" y="482" width="2.00" height="2.00" fill="#000"/>
<text transform="scale(0.7400,1)" x="1194.29 1202.39 1210.50 1226.72 1234.83" y="484.20" font-family="Liberation Sans" font-size="13.26" fill="#000" stroke="#000" stroke-width="0.25">19875</text>
<rect x="904" y="531" width="2.00" height="2.00" fill="#000"/>
<text transform="scale(0.7400,1)" x="1194.29 1202.39 1210.50 1226.72 1234.83" y="533.20" font-family="Liberation Sans" font-size="13.26" fill="#000" stroke="#000" stroke-width="0.25">19850</text>
<rect x="904" y="96" width="2.00" height="2.00" fill="#000"/>
<text transform="scale(0.7400,1)" x="1194.29 1202.39 1210.50 1226.72 1234.83 1242.93" y="98.30" font-family="Liberation Sans" font-size="13.26" fill="#000" stroke="#000" stroke-width="0.25">200708</text>
<rect x="895" y="580" width="2.00" height="2.00" fill="#000"/>
<text transform="scale(0.7400,1)" x="1199.02 1215.23 1223.34 1231.45" y="582.30" font-family="Liberation Sans" font-size="13.26" fill="#000" stroke="#000" stroke-width="0.25">0250</text>
<rect x="895" y="630" width="2.00" height="2.00" fill="#000"/>
<text transform="scale(0.7400,1)" x="1199.02 1215.23 1223.34 1231.45" y="632.30" font-family="Liberation Sans" font-size="13.26" fill="#000" stroke="#000" stroke-width="0.25">0125</text>
<rect x="897" y="720" width="2.00" height="2.00" fill="#000"/>
<text transform="scale(0.7400,1)" x="1195.09 1201.72 1217.93 1226.04 1234.15" y="722.30" font-family="Liberation Sans" font-size="13.26" fill="#000" stroke="#000" stroke-width="0.25">-0125</text>
<rect x="897" y="770" width="2.00" height="2.00" fill="#000"/>
<text transform="scale(0.7400,1)" x="1195.09 1201.72 1217.93 1226.04 1234.15" y="772.30" font-family="Liberation Sans" font-size="13.26" fill="#000" stroke="#000" stroke-width="0.25">-0250</text>
<rect x="895" y="780" width="2.00" height="2.00" fill="#000"/>
<text transform="scale(0.7400,1)" x="1199.02 1215.23 1223.34 1231.45" y="782.30" font-family="Liberation Sans" font-size="13.26" fill="#000" stroke="#000" stroke-width="0.25">0500</text>
<rect x="895" y="802" width="2.00" height="2.00" fill="#000"/>
<text transform="scale(0.7400,1)" x="1199.02 1215.23 1223.34 1231.45" y="804.30" font-family="Liberation Sans" font-size="13.26" fill="#000" stroke="#000" stroke-width="0.25">0100</text>
<text transform="scale(0.7400,1)" x="192.26 200.37" y="816.50" font-family="Liberation Sans" font-size="13.26" fill="#000" stroke="#000" stroke-width="0.25">09</text>
<text class="cj" x="154" y="816.1" fill="#000" stroke="#000">月</text>
<text transform="scale(0.7400,1)" x="224.69 232.80" y="816.50" font-family="Liberation Sans" font-size="13.26" fill="#000" stroke="#000" stroke-width="0.25">11</text>
<text class="cj" x="178" y="816.1" fill="#000" stroke="#000">日</text>
<text transform="scale(0.7400,1)" x="419.29 427.39" y="816.50" font-family="Liberation Sans" font-size="13.26" fill="#000" stroke="#000" stroke-width="0.25">09</text>
<text class="cj" x="322" y="816.1" fill="#000" stroke="#000">月</text>
<text transform="scale(0.7400,1)" x="451.72 459.83" y="816.50" font-family="Liberation Sans" font-size="13.26" fill="#000" stroke="#000" stroke-width="0.25">12</text>
<text class="cj" x="346" y="816.1" fill="#000" stroke="#000">日</text>
<text transform="scale(0.7400,1)" x="646.31 654.42" y="816.50" font-family="Liberation Sans" font-size="13.26" fill="#000" stroke="#000" stroke-width="0.25">09</text>
<text class="cj" x="490" y="816.1" fill="#000" stroke="#000">月</text>
<text transform="scale(0.7400,1)" x="678.75 686.85" y="816.50" font-family="Liberation Sans" font-size="13.26" fill="#000" stroke="#000" stroke-width="0.25">13</text>
<text class="cj" x="514" y="816.1" fill="#000" stroke="#000">日</text>
<text transform="scale(0.7400,1)" x="703.07 711.18" y="816.50" font-family="Liberation Sans" font-size="13.26" fill="#000" stroke="#000" stroke-width="0.25">09</text>
<text class="cj" x="532" y="816.1" fill="#000" stroke="#000">月</text>
<text transform="scale(0.7400,1)" x="735.50 743.61" y="816.50" font-family="Liberation Sans" font-size="13.26" fill="#000" stroke="#000" stroke-width="0.25">15</text>
<text class="cj" x="556" y="816.1" fill="#000" stroke="#000">日</text>
<text transform="scale(0.7400,1)" x="863.88 871.99" y="816.50" font-family="Liberation Sans" font-size="13.26" fill="#000" stroke="#000" stroke-width="0.25">09</text>
<text class="cj" x="651" y="816.1" fill="#000" stroke="#000">月</text>
<text transform="scale(0.7400,1)" x="896.31 904.42" y="816.50" font-family="Liberation Sans" font-size="13.26" fill="#000" stroke="#000" stroke-width="0.25">16</text>
<text class="cj" x="675" y="816.1" fill="#000" stroke="#000">日</text>
<text transform="scale(0.7400,1)" x="1090.91 1099.02" y="816.50" font-family="Liberation Sans" font-size="13.26" fill="#000" stroke="#000" stroke-width="0.25">09</text>
<text class="cj" x="819" y="816.1" fill="#000" stroke="#000">月</text>
<text transform="scale(0.7400,1)" x="1123.34 1131.45" y="816.50" font-family="Liberation Sans" font-size="13.26" fill="#000" stroke="#000" stroke-width="0.25">17</text>
<text class="cj" x="843" y="816.1" fill="#000" stroke="#000">日</text>
<rect x="15.5" y="486.5" width="189.5" height="302.5" fill="rgba(50,49,71,0.84)"/>
<rect x="16" y="487" width="188.5" height="301.5" fill="none" stroke="rgba(40,40,60,0.6)" stroke-width="1"/>
<text transform="scale(0.7400,1)" x="23.07 31.18 39.29 47.39" y="501.50" font-family="Liberation Sans" font-size="13.26" fill="#fff" stroke="#fff" stroke-width="0.25">2025</text>
<text class="cj" x="40.85" y="501.1" fill="#fff" stroke="#fff">年</text>
<text transform="scale(0.7400,1)" x="71.85" y="501.50" font-family="Liberation Sans" font-size="13.26" fill="#fff" stroke="#fff" stroke-width="0.25">9</text>
<text class="cj" x="58.95" y="501.1" fill="#fff" stroke="#fff">月</text>
<text transform="scale(0.7400,1)" x="96.31 104.42" y="501.50" font-family="Liberation Sans" font-size="13.26" fill="#fff" stroke="#fff" stroke-width="0.25">17</text>
<text class="cj" x="83.05" y="501.1" fill="#fff" stroke="#fff">日</text>
<text transform="scale(0.7400,1)" x="138.61 148.56 154.83 162.93" y="501.50" font-family="Liberation Sans" font-size="13.26" fill="#fff" stroke="#fff" stroke-width="0.25">8:00</text>
<circle cx="194.8" cy="496.6" r="7.3" fill="#ececf6"/>
<circle cx="194.8" cy="496.6" r="7.3" fill="none" stroke="#c8c8e0" stroke-width="1"/>
<rect x="192" y="497.3" width="6" height="2" fill="#111" shape-rendering="crispEdges"/>
<text class="cj" x="16.95 29.25" y="528.9" fill="#fff" stroke="#fff">始値</text>
<text x="151.74 159.09 166.44 175.44 181.14 188.49 195.84" y="528.90" font-family="Liberation Sans" font-size="11.80" fill="#fff" stroke="#fff" stroke-width="0.2">199.967</text>
<text class="cj" x="16.95 29.25" y="542.9" fill="#fff" stroke="#fff">高値</text>
<text x="151.74 159.09 166.44 175.44 181.14 188.49 195.84" y="542.90" font-family="Liberation Sans" font-size="11.80" fill="#fff" stroke="#fff" stroke-width="0.2">199.971</text>
<text class="cj" x="16.95 29.25" y="556.9" fill="#fff" stroke="#fff">安値</text>
<text x="151.74 159.09 166.44 175.44 181.14 188.49 195.84" y="556.90" font-family="Liberation Sans" font-size="11.80" fill="#fff" stroke="#fff" stroke-width="0.2">199.791</text>
<text class="cj" x="16.95 29.25" y="570.9" fill="#fff" stroke="#fff">終値</text>
<text x="151.74 159.09 166.44 175.44 181.14 188.49 195.84" y="570.90" font-family="Liberation Sans" font-size="11.80" fill="#fff" stroke="#fff" stroke-width="0.2">199.822</text>
<text class="cj" x="16.95 29.25 41.55 53.85" y="584.9" fill="#1eb4ff" stroke="#1eb4ff">移動平均</text>
<text transform="scale(0.7400,1)" x="91.04 97.66 105.77" y="585.30" font-family="Liberation Sans" font-size="13.26" fill="#1eb4ff" stroke="#1eb4ff" stroke-width="0.25">(21</text>
<text class="cj" x="84.15" y="584.9" fill="#1eb4ff" stroke="#1eb4ff">本</text>
<text transform="scale(0.7400,1)" x="131.98" y="585.30" font-family="Liberation Sans" font-size="13.26" fill="#1eb4ff" stroke="#1eb4ff" stroke-width="0.25">)</text>
<text x="151.74 159.09 166.44 175.44 181.14 188.49 195.84" y="584.90" font-family="Liberation Sans" font-size="11.80" fill="#1eb4ff" stroke="#1eb4ff" stroke-width="0.2">200.160</text>
<text class="cj" x="16.95 29.25 41.55 53.85" y="598.9" fill="#00ffff" stroke="#00ffff">移動平均</text>
<text transform="scale(0.7400,1)" x="91.04 97.66 105.77" y="599.30" font-family="Liberation Sans" font-size="13.26" fill="#00ffff" stroke="#00ffff" stroke-width="0.25">(84</text>
<text class="cj" x="84.15" y="598.9" fill="#00ffff" stroke="#00ffff">本</text>
<text transform="scale(0.7400,1)" x="131.98" y="599.30" font-family="Liberation Sans" font-size="13.26" fill="#00ffff" stroke="#00ffff" stroke-width="0.25">)</text>
<text x="151.74 159.09 166.44 175.44 181.14 188.49 195.84" y="598.90" font-family="Liberation Sans" font-size="11.80" fill="#00ffff" stroke="#00ffff" stroke-width="0.2">200.143</text>
<text class="cj" x="16.95 29.25 41.55 53.85 66.15 78.45" y="612.9" fill="#00ff00" stroke="#00ff00">ボリンジャー</text>
<text class="cj" x="96.75" y="612.9" fill="#00ff00" stroke="#00ff00">上</text>
<text transform="scale(0.7400,1)" x="149.01 155.64 163.75" y="613.30" font-family="Liberation Sans" font-size="13.26" fill="#00ff00" stroke="#00ff00" stroke-width="0.25">(21</text>
<text class="cj" x="127.05" y="612.9" fill="#00ff00" stroke="#00ff00">本</text>
<text transform="scale(0.7400,1)" x="189.95" y="613.30" font-family="Liberation Sans" font-size="13.26" fill="#00ff00" stroke="#00ff00" stroke-width="0.25">)</text>
<text x="151.74 159.09 166.44 175.44 181.14 188.49 195.84" y="612.90" font-family="Liberation Sans" font-size="11.80" fill="#00ff00" stroke="#00ff00" stroke-width="0.2">200.397</text>
<text class="cj" x="16.95 29.25 41.55 53.85 66.15 78.45" y="626.9" fill="#00ff00" stroke="#00ff00">ボリンジャー</text>
<text class="cj" x="96.75" y="626.9" fill="#00ff00" stroke="#00ff00">下</text>
<text transform="scale(0.7400,1)" x="149.01 155.64 163.75" y="627.30" font-family="Liberation Sans" font-size="13.26" fill="#00ff00" stroke="#00ff00" stroke-width="0.25">(21</text>
<text class="cj" x="127.05" y="626.9" fill="#00ff00" stroke="#00ff00">本</text>
<text transform="scale(0.7400,1)" x="189.95" y="627.30" font-family="Liberation Sans" font-size="13.26" fill="#00ff00" stroke="#00ff00" stroke-width="0.25">)</text>
<text x="151.74 159.09 166.44 175.44 181.14 188.49 195.84" y="626.90" font-family="Liberation Sans" font-size="11.80" fill="#00ff00" stroke="#00ff00" stroke-width="0.2">199.923</text>
<text class="cj" x="16.95 29.25 41.55 53.85 66.15 78.45" y="640.9" fill="#ff99cc" stroke="#ff99cc">ボリンジャー</text>
<text class="cj" x="96.75" y="640.9" fill="#ff99cc" stroke="#ff99cc">上</text>
<text transform="scale(0.7400,1)" x="149.01 155.64 163.75" y="641.30" font-family="Liberation Sans" font-size="13.26" fill="#ff99cc" stroke="#ff99cc" stroke-width="0.25">(21</text>
<text class="cj" x="127.05" y="640.9" fill="#ff99cc" stroke="#ff99cc">本</text>
<text transform="scale(0.7400,1)" x="189.95" y="641.30" font-family="Liberation Sans" font-size="13.26" fill="#ff99cc" stroke="#ff99cc" stroke-width="0.25">)</text>
<text x="151.74 159.09 166.44 175.44 181.14 188.49 195.84" y="640.90" font-family="Liberation Sans" font-size="11.80" fill="#ff99cc" stroke="#ff99cc" stroke-width="0.2">200.635</text>
<text class="cj" x="16.95 29.25 41.55 53.85 66.15 78.45" y="654.9" fill="#ff99cc" stroke="#ff99cc">ボリンジャー</text>
<text class="cj" x="96.75" y="654.9" fill="#ff99cc" stroke="#ff99cc">下</text>
<text transform="scale(0.7400,1)" x="149.01 155.64 163.75" y="655.30" font-family="Liberation Sans" font-size="13.26" fill="#ff99cc" stroke="#ff99cc" stroke-width="0.25">(21</text>
<text class="cj" x="127.05" y="654.9" fill="#ff99cc" stroke="#ff99cc">本</text>
<text transform="scale(0.7400,1)" x="189.95" y="655.30" font-family="Liberation Sans" font-size="13.26" fill="#ff99cc" stroke="#ff99cc" stroke-width="0.25">)</text>
<text x="151.74 159.09 166.44 175.44 181.14 188.49 195.84" y="654.90" font-family="Liberation Sans" font-size="11.80" fill="#ff99cc" stroke="#ff99cc" stroke-width="0.2">199.686</text>
<text class="cj" x="16.95 29.25 41.55 53.85 66.15 78.45" y="668.9" fill="#00ffff" stroke="#00ffff">ボリンジャー</text>
<text class="cj" x="96.75" y="668.9" fill="#00ffff" stroke="#00ffff">上</text>
<text transform="scale(0.7400,1)" x="149.01 155.64 163.75" y="669.30" font-family="Liberation Sans" font-size="13.26" fill="#00ffff" stroke="#00ffff" stroke-width="0.25">(21</text>
<text class="cj" x="127.05" y="668.9" fill="#00ffff" stroke="#00ffff">本</text>
<text transform="scale(0.7400,1)" x="189.95" y="669.30" font-family="Liberation Sans" font-size="13.26" fill="#00ffff" stroke="#00ffff" stroke-width="0.25">)</text>
<text x="151.74 159.09 166.44 175.44 181.14 188.49 195.84" y="668.90" font-family="Liberation Sans" font-size="11.80" fill="#00ffff" stroke="#00ffff" stroke-width="0.2">200.872</text>
<text class="cj" x="16.95 29.25 41.55 53.85 66.15 78.45" y="682.9" fill="#00ffff" stroke="#00ffff">ボリンジャー</text>
<text class="cj" x="96.75" y="682.9" fill="#00ffff" stroke="#00ffff">下</text>
<text transform="scale(0.7400,1)" x="149.01 155.64 163.75" y="683.30" font-family="Liberation Sans" font-size="13.26" fill="#00ffff" stroke="#00ffff" stroke-width="0.25">(21</text>
<text class="cj" x="127.05" y="682.9" fill="#00ffff" stroke="#00ffff">本</text>
<text transform="scale(0.7400,1)" x="189.95" y="683.30" font-family="Liberation Sans" font-size="13.26" fill="#00ffff" stroke="#00ffff" stroke-width="0.25">)</text>
<text x="151.74 159.09 166.44 175.44 181.14 188.49 195.84" y="682.90" font-family="Liberation Sans" font-size="11.80" fill="#00ffff" stroke="#00ffff" stroke-width="0.2">199.449</text>
<text transform="translate(16.80,697.30) scale(0.7375,1)" font-family="Liberation Mono" font-size="13.56" fill="#00ffff">MACD</text>
<text transform="scale(0.7400,1)" x="56.98 63.61" y="697.30" font-family="Liberation Sans" font-size="13.26" fill="#00ffff" stroke="#00ffff" stroke-width="0.25">(9</text>
<text class="cj" x="52.95" y="696.9" fill="#00ffff" stroke="#00ffff">本</text>
<text transform="scale(0.7400,1)" x="90.19 96.45 104.56" y="697.30" font-family="Liberation Sans" font-size="13.26" fill="#00ffff" stroke="#00ffff" stroke-width="0.25">/21</text>
<text class="cj" x="83.25" y="696.9" fill="#00ffff" stroke="#00ffff">本</text>
<text transform="scale(0.7400,1)" x="130.77" y="697.30" font-family="Liberation Sans" font-size="13.26" fill="#00ffff" stroke="#00ffff" stroke-width="0.25">)</text>
<text x="153.06 159.09 168.09 173.79 181.14 188.49 195.84" y="696.90" font-family="Liberation Sans" font-size="11.80" fill="#00ffff" stroke="#00ffff" stroke-width="0.2">-0.1355</text>
<text class="cj" x="16.95 29.25 41.55 53.85" y="710.9" fill="#00ff00" stroke="#00ff00">シグナル</text>
<text transform="scale(0.7400,1)" x="91.04 97.66" y="711.30" font-family="Liberation Sans" font-size="13.26" fill="#00ff00" stroke="#00ff00" stroke-width="0.25">(9</text>
<text class="cj" x="78.15" y="710.9" fill="#00ff00" stroke="#00ff00">本</text>
<text transform="scale(0.7400,1)" x="123.87" y="711.30" font-family="Liberation Sans" font-size="13.26" fill="#00ff00" stroke="#00ff00" stroke-width="0.25">)</text>
<text x="153.06 159.09 168.09 173.79 181.14 188.49 195.84" y="710.90" font-family="Liberation Sans" font-size="11.80" fill="#00ff00" stroke="#00ff00" stroke-width="0.2">-0.1056</text>
<text transform="translate(16.80,725.30) scale(0.7375,1)" font-family="Liberation Mono" font-size="13.56" fill="#ffc8b8">OSCI</text>
<text transform="scale(0.7400,1)" x="56.98 63.61" y="725.30" font-family="Liberation Sans" font-size="13.26" fill="#ffc8b8" stroke="#ffc8b8" stroke-width="0.25">(9</text>
<text class="cj" x="52.95" y="724.9" fill="#ffc8b8" stroke="#ffc8b8">本</text>
<text transform="scale(0.7400,1)" x="89.82" y="725.30" font-family="Liberation Sans" font-size="13.26" fill="#ffc8b8" stroke="#ffc8b8" stroke-width="0.25">)</text>
<text x="160.41 166.44 175.44 181.14 188.49 195.84" y="724.90" font-family="Liberation Sans" font-size="11.80" fill="#ffc8b8" stroke="#ffc8b8" stroke-width="0.2">-0.030</text>
<text class="cj" x="16.95 29.25 41.55 53.85 66.15" y="738.9" fill="#ff0000" stroke="#ff0000">遅行スパン</text>
<text transform="scale(0.7400,1)" x="107.66 114.29 122.39" y="739.30" font-family="Liberation Sans" font-size="13.26" fill="#ff0000" stroke="#ff0000" stroke-width="0.25">(21</text>
<text class="cj" x="96.45" y="738.9" fill="#ff0000" stroke="#ff0000">本</text>
<text transform="scale(0.7400,1)" x="148.60" y="739.30" font-family="Liberation Sans" font-size="13.26" fill="#ff0000" stroke="#ff0000" stroke-width="0.25">)</text>
<text x="202.6" y="739.8" text-anchor="end" font-family="Liberation Mono" font-size="11.5" fill="#ff0000" stroke="#ff0000" stroke-width="0.3">*</text>
<text class="cj" x="16.95 29.25 41.55" y="752.9" fill="#99ccff" stroke="#99ccff">スパン</text>
<text transform="translate(53.70,753.30) scale(0.7375,1)" font-family="Liberation Mono" font-size="13.56" fill="#99ccff">A</text>
<text x="151.74 159.09 166.44 175.44 181.14 188.49 195.84" y="752.90" font-family="Liberation Sans" font-size="11.80" fill="#99ccff" stroke="#99ccff" stroke-width="0.2">200.195</text>
<text class="cj" x="16.95 29.25 41.55" y="766.9" fill="#ff99cc" stroke="#ff99cc">スパン</text>
<text transform="translate(53.70,767.30) scale(0.7375,1)" font-family="Liberation Mono" font-size="13.56" fill="#ff99cc">B</text>
<text x="151.74 159.09 166.44 175.44 181.14 188.49 195.84" y="766.90" font-family="Liberation Sans" font-size="11.80" fill="#ff99cc" stroke="#ff99cc" stroke-width="0.2">200.269</text>
<text transform="translate(16.80,781.30) scale(0.7375,1)" font-family="Liberation Mono" font-size="13.56" fill="#00ff00">ATR</text>
<text transform="scale(0.7400,1)" x="48.87 55.50 63.61" y="781.30" font-family="Liberation Sans" font-size="13.26" fill="#00ff00" stroke="#00ff00" stroke-width="0.25">(14</text>
<text class="cj" x="52.95" y="780.9" fill="#00ff00" stroke="#00ff00">本</text>
<text transform="scale(0.7400,1)" x="89.82" y="781.30" font-family="Liberation Sans" font-size="13.26" fill="#00ff00" stroke="#00ff00" stroke-width="0.25">)</text>
<text x="159.09 168.09 173.79 181.14 188.49 195.84" y="780.90" font-family="Liberation Sans" font-size="11.80" fill="#00ff00" stroke="#00ff00" stroke-width="0.2">0.2231</text>
<rect x="0" y="0" width="935" height="25" fill="#f0f0f0"/>
<rect x="0" y="0" width="935" height="2" fill="#cfcfcf"/>
<rect x="0" y="0" width="122" height="2" fill="#8e8e8e"/>
<rect x="239" y="0" width="318" height="2" fill="#8e8e8e"/>
<rect x="557" y="0" width="378" height="1" fill="#9c9c9c"/>
<rect x="1.5" y="3.5" width="129" height="19" rx="2" fill="#fff" stroke="#7a7a7a" stroke-width="1"/>
<rect x="3" y="5" width="109" height="16" fill="#000"/>
<g transform="translate(5,8)"><rect width="16" height="11" fill="#1a1aa0"/><path d="M0 0L16 11M16 0L0 11" stroke="#fff" stroke-width="2.6"/><path d="M0 0L16 11M16 0L0 11" stroke="#e00000" stroke-width="1"/><path d="M8 0V11M0 5.5H16" stroke="#fff" stroke-width="3.6"/><path d="M8 0V11M0 5.5H16" stroke="#e00000" stroke-width="2"/></g>
<path d="M22.3 19L25 8.5" stroke="#fff" stroke-width="1.1"/>
<rect x="27" y="8" width="16.5" height="11" fill="#fff" stroke="#ccc" stroke-width="0.6"/><circle cx="35.3" cy="13.5" r="3.4" fill="#f00000"/>
<text x="46" y="18.6" font-family="Liberation Sans" font-size="12" fill="#fff" textLength="49" lengthAdjust="spacingAndGlyphs">GBP/JPY</text>
<path d="M117.0 11.5L121.0 15.5L125.0 11.5" fill="none" stroke="#606060" stroke-width="1"/>
<rect x="135.5" y="3.5" width="70.5" height="18.5" rx="2.5" fill="#fff" stroke="#d0d0d0" stroke-width="1"/>
<path d="M194.0 12.0L198.0 16.0L202.0 12.0" fill="none" stroke="#606060" stroke-width="1"/>
<rect x="211.5" y="3.5" width="94.5" height="18.5" rx="2.5" fill="#fff" stroke="#d0d0d0" stroke-width="1"/>
<path d="M294.0 12.0L298.0 16.0L302.0 12.0" fill="none" stroke="#606060" stroke-width="1"/>
<rect x="311.5" y="3.5" width="63" height="19" rx="2" fill="#fff" stroke="#7a7a7a" stroke-width="1"/>
<rect x="313" y="5" width="43" height="16" fill="#000"/>
<rect x="327" y="8" width="1" height="11" fill="#fff"/><rect x="325.5" y="10.5" width="4" height="6" fill="#000" stroke="#fff" stroke-width="1"/>
<path d="M362.0 11.5L366.0 15.5L370.0 11.5" fill="none" stroke="#606060" stroke-width="1"/>
<rect x="380.5" y="3.5" width="157" height="17" rx="3" fill="#fff" stroke="#d4d4d4" stroke-width="1"/>
<path d="M383 20.5H535" stroke="#b0b0b0" stroke-width="1"/>
<rect x="548.5" y="4.5" width="61" height="18.5" rx="3" fill="#fdfdfd" stroke="#d0d0d0" stroke-width="1"/>
<text transform="scale(0.6167,1)" x="227.39" y="18.00" font-family="Liberation Sans" font-size="13.26" fill="#000" stroke="#000" stroke-width="0.25">1</text>
<text class="cj" x="144.85 156.55 168.25" y="17.6" fill="#000" stroke="#000">時間足</text>
<text class="cj" x="214.6 223.4 232.2 241" y="17.6" style="font-size:9.6px;stroke-width:0.2px" fill="#000" stroke="#000">ローソク</text>
<text class="cj" x="382 394 406" y="17.1" fill="#000" stroke="#000">四角形</text>
<text class="cj" x="564 576" y="18.6" fill="#000" stroke="#000">設定</text>
<rect x="588.3" y="17.2" width="1.3" height="1.5" fill="#000"/><rect x="590.6" y="17.2" width="1.3" height="1.5" fill="#000"/><rect x="592.9" y="17.2" width="1.3" height="1.5" fill="#000"/>
</svg>
</body></html>
